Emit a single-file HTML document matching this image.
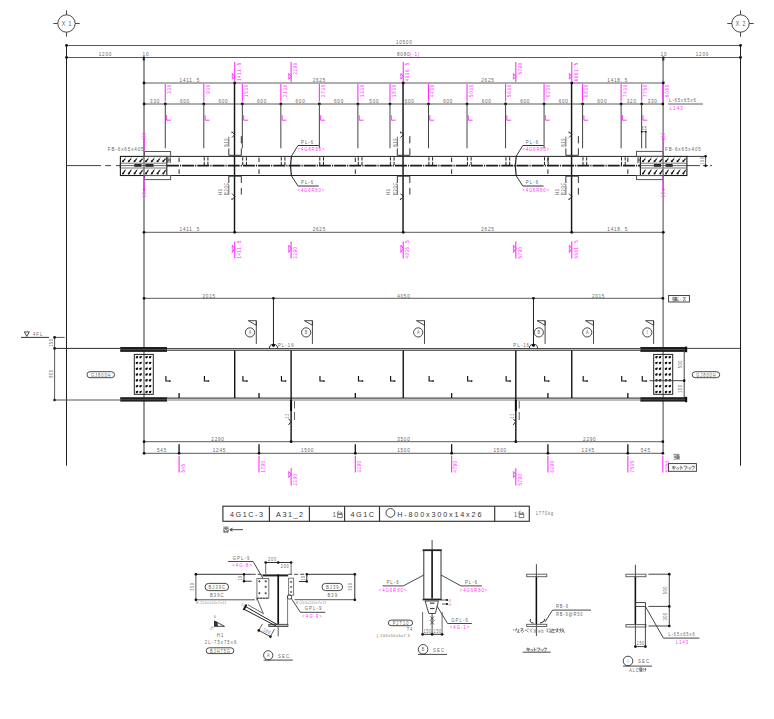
<!DOCTYPE html>
<html><head><meta charset="utf-8"><title>drawing</title>
<style>
html,body{margin:0;padding:0;background:#fff;}
body{width:774px;height:719px;overflow:hidden;}
svg{display:block;font-family:"Liberation Sans",sans-serif;}
</style></head><body>
<svg width="774" height="719" viewBox="0 0 774 719">
<rect width="774" height="719" fill="#fff"/>
<circle cx="66.5" cy="23.5" r="8.7" stroke="#333" stroke-width="0.9" fill="none"/>
<line x1="53.3" y1="23.5" x2="57.8" y2="23.5" stroke="#333" stroke-width="0.9"/>
<line x1="75.2" y1="23.5" x2="79.7" y2="23.5" stroke="#333" stroke-width="0.9"/>
<line x1="66.5" y1="10.3" x2="66.5" y2="14.8" stroke="#333" stroke-width="0.9"/>
<line x1="66.5" y1="32.2" x2="66.5" y2="36.7" stroke="#333" stroke-width="0.9"/>
<text x="0.58" y="0" font-size="6.5" fill="#555" text-anchor="middle" letter-spacing="1.15" transform="translate(66.5 25.9) scale(0.8 1)">X 1</text>
<circle cx="740.5" cy="23.5" r="8.7" stroke="#333" stroke-width="0.9" fill="none"/>
<line x1="727.3" y1="23.5" x2="731.8" y2="23.5" stroke="#333" stroke-width="0.9"/>
<line x1="749.2" y1="23.5" x2="753.7" y2="23.5" stroke="#333" stroke-width="0.9"/>
<line x1="740.5" y1="10.3" x2="740.5" y2="14.8" stroke="#333" stroke-width="0.9"/>
<line x1="740.5" y1="32.2" x2="740.5" y2="36.7" stroke="#333" stroke-width="0.9"/>
<text x="0.58" y="0" font-size="6.5" fill="#555" text-anchor="middle" letter-spacing="1.15" transform="translate(740.5 25.9) scale(0.8 1)">X 2</text>
<line x1="66.5" y1="45.5" x2="740.5" y2="45.5" stroke="#5a5a5a" stroke-width="1"/>
<line x1="66.5" y1="57.5" x2="740.5" y2="57.5" stroke="#5a5a5a" stroke-width="1"/>
<circle cx="66.5" cy="45.5" r="1.4" fill="#111"/>
<circle cx="66.5" cy="57.5" r="1.4" fill="#111"/>
<circle cx="740.5" cy="45.5" r="1.4" fill="#111"/>
<circle cx="740.5" cy="57.5" r="1.4" fill="#111"/>
<text x="0.47" y="0" font-size="5.8" fill="#666" text-anchor="middle" letter-spacing="0.93" transform="translate(403.8 44) scale(0.8 1)">10500</text>
<text x="0.47" y="0" font-size="5.8" fill="#666" text-anchor="middle" letter-spacing="0.93" transform="translate(105 55.6) scale(0.8 1)">1200</text>
<text x="0.47" y="0" font-size="5.8" fill="#666" text-anchor="middle" letter-spacing="0.93" transform="translate(702 55.6) scale(0.8 1)">1200</text>
<text x="0.47" y="0" font-size="5.8" fill="#666" text-anchor="middle" letter-spacing="0.93" transform="translate(145.5 55.6) scale(0.8 1)">10</text>
<text x="0.47" y="0" font-size="5.8" fill="#666" text-anchor="middle" letter-spacing="0.93" transform="translate(663.5 55.6) scale(0.8 1)">10</text>
<text x="0" y="0" font-size="5.8" fill="#666" text-anchor="start" letter-spacing="0.93" transform="translate(397 55.6) scale(0.8 1)">8080</text>
<text x="0" y="0" font-size="5.8" fill="#ff2eff" text-anchor="start" letter-spacing="0.93" transform="translate(409.8 55.6) scale(0.8 1)">(-1)</text>
<rect x="142.8" y="56.5" width="2" height="4" fill="#111"/>
<rect x="662.3" y="56.5" width="2" height="4" fill="#111"/>
<line x1="66.5" y1="45.5" x2="66.5" y2="465.7" stroke="#1e1e1e" stroke-width="1"/>
<line x1="740.5" y1="45.5" x2="740.5" y2="465.7" stroke="#1e1e1e" stroke-width="1"/>
<line x1="144" y1="57.5" x2="144" y2="453.3" stroke="#333" stroke-width="1"/>
<line x1="663.1" y1="57.5" x2="663.1" y2="453.3" stroke="#444" stroke-width="1"/>
<line x1="144" y1="83" x2="663.3" y2="83" stroke="#5a5a5a" stroke-width="1"/>
<circle cx="144" cy="83" r="1.4" fill="#111"/>
<circle cx="663.3" cy="83" r="1.4" fill="#111"/>
<circle cx="234.72" cy="83" r="1.4" fill="#111"/>
<circle cx="403.24" cy="83" r="1.4" fill="#111"/>
<circle cx="571.77" cy="83" r="1.4" fill="#111"/>
<text x="0.47" y="0" font-size="5.8" fill="#666" text-anchor="middle" letter-spacing="0.93" transform="translate(189.41 81.9) scale(0.8 1)">1411. 5</text>
<text x="0.47" y="0" font-size="5.8" fill="#666" text-anchor="middle" letter-spacing="0.93" transform="translate(318.98 81.9) scale(0.8 1)">2625</text>
<text x="0.47" y="0" font-size="5.8" fill="#666" text-anchor="middle" letter-spacing="0.93" transform="translate(487.51 81.9) scale(0.8 1)">2625</text>
<text x="0.47" y="0" font-size="5.8" fill="#666" text-anchor="middle" letter-spacing="0.93" transform="translate(617.3 81.9) scale(0.8 1)">1418. 5</text>
<line x1="144" y1="104" x2="663.3" y2="104" stroke="#5a5a5a" stroke-width="1"/>
<text x="0.47" y="0" font-size="5.8" fill="#666" text-anchor="middle" letter-spacing="0.93" transform="translate(154.69 102.9) scale(0.8 1)">330</text>
<text x="0.47" y="0" font-size="5.8" fill="#666" text-anchor="middle" letter-spacing="0.93" transform="translate(184.55 102.9) scale(0.8 1)">600</text>
<text x="0.47" y="0" font-size="5.8" fill="#666" text-anchor="middle" letter-spacing="0.93" transform="translate(223.07 102.9) scale(0.8 1)">600</text>
<text x="0.47" y="0" font-size="5.8" fill="#666" text-anchor="middle" letter-spacing="0.93" transform="translate(261.59 102.9) scale(0.8 1)">600</text>
<text x="0.47" y="0" font-size="5.8" fill="#666" text-anchor="middle" letter-spacing="0.93" transform="translate(300.11 102.9) scale(0.8 1)">600</text>
<text x="0.47" y="0" font-size="5.8" fill="#666" text-anchor="middle" letter-spacing="0.93" transform="translate(338.63 102.9) scale(0.8 1)">600</text>
<text x="0.47" y="0" font-size="5.8" fill="#666" text-anchor="middle" letter-spacing="0.93" transform="translate(373.94 102.9) scale(0.8 1)">500</text>
<text x="0.47" y="0" font-size="5.8" fill="#666" text-anchor="middle" letter-spacing="0.93" transform="translate(409.25 102.9) scale(0.8 1)">600</text>
<text x="0.47" y="0" font-size="5.8" fill="#666" text-anchor="middle" letter-spacing="0.93" transform="translate(447.77 102.9) scale(0.8 1)">600</text>
<text x="0.47" y="0" font-size="5.8" fill="#666" text-anchor="middle" letter-spacing="0.93" transform="translate(486.29 102.9) scale(0.8 1)">600</text>
<text x="0.47" y="0" font-size="5.8" fill="#666" text-anchor="middle" letter-spacing="0.93" transform="translate(524.81 102.9) scale(0.8 1)">600</text>
<text x="0.47" y="0" font-size="5.8" fill="#666" text-anchor="middle" letter-spacing="0.93" transform="translate(563.33 102.9) scale(0.8 1)">600</text>
<text x="0.47" y="0" font-size="5.8" fill="#666" text-anchor="middle" letter-spacing="0.93" transform="translate(601.85 102.9) scale(0.8 1)">600</text>
<text x="0.47" y="0" font-size="5.8" fill="#666" text-anchor="middle" letter-spacing="0.93" transform="translate(631.38 102.9) scale(0.8 1)">320</text>
<text x="0.47" y="0" font-size="5.8" fill="#666" text-anchor="middle" letter-spacing="0.93" transform="translate(652.24 102.9) scale(0.8 1)">330</text>
<circle cx="144.1" cy="104" r="1.4" fill="#111"/>
<circle cx="165.29" cy="104" r="1.4" fill="#111"/>
<circle cx="203.81" cy="104" r="1.4" fill="#111"/>
<circle cx="242.33" cy="104" r="1.4" fill="#111"/>
<circle cx="280.85" cy="104" r="1.4" fill="#111"/>
<circle cx="319.37" cy="104" r="1.4" fill="#111"/>
<circle cx="357.89" cy="104" r="1.4" fill="#111"/>
<circle cx="389.99" cy="104" r="1.4" fill="#111"/>
<circle cx="428.51" cy="104" r="1.4" fill="#111"/>
<circle cx="467.03" cy="104" r="1.4" fill="#111"/>
<circle cx="505.55" cy="104" r="1.4" fill="#111"/>
<circle cx="544.07" cy="104" r="1.4" fill="#111"/>
<circle cx="582.59" cy="104" r="1.4" fill="#111"/>
<circle cx="621.11" cy="104" r="1.4" fill="#111"/>
<circle cx="641.65" cy="104" r="1.4" fill="#111"/>
<circle cx="662.84" cy="104" r="1.4" fill="#111"/>
<line x1="165.29" y1="84" x2="165.29" y2="101.5" stroke="#ff2eff" stroke-width="1.1"/>
<text x="1.05" y="0" font-size="5.3" fill="#ff2eff" text-anchor="end" letter-spacing="1.05" transform="translate(171.09 85) rotate(-90) scale(0.8 1)">330</text>
<line x1="203.81" y1="84" x2="203.81" y2="101.5" stroke="#ff2eff" stroke-width="1.1"/>
<text x="1.05" y="0" font-size="5.3" fill="#ff2eff" text-anchor="end" letter-spacing="1.05" transform="translate(209.61 85) rotate(-90) scale(0.8 1)">930</text>
<line x1="242.33" y1="84" x2="242.33" y2="101.5" stroke="#ff2eff" stroke-width="1.1"/>
<text x="1.05" y="0" font-size="5.3" fill="#ff2eff" text-anchor="end" letter-spacing="1.05" transform="translate(248.13 85) rotate(-90) scale(0.8 1)">1530</text>
<line x1="280.85" y1="84" x2="280.85" y2="101.5" stroke="#ff2eff" stroke-width="1.1"/>
<text x="1.05" y="0" font-size="5.3" fill="#ff2eff" text-anchor="end" letter-spacing="1.05" transform="translate(286.65 85) rotate(-90) scale(0.8 1)">2130</text>
<line x1="319.37" y1="84" x2="319.37" y2="101.5" stroke="#ff2eff" stroke-width="1.1"/>
<text x="1.05" y="0" font-size="5.3" fill="#ff2eff" text-anchor="end" letter-spacing="1.05" transform="translate(325.17 85) rotate(-90) scale(0.8 1)">2730</text>
<line x1="357.89" y1="84" x2="357.89" y2="101.5" stroke="#ff2eff" stroke-width="1.1"/>
<text x="1.05" y="0" font-size="5.3" fill="#ff2eff" text-anchor="end" letter-spacing="1.05" transform="translate(363.69 85) rotate(-90) scale(0.8 1)">3330</text>
<line x1="389.99" y1="84" x2="389.99" y2="101.5" stroke="#ff2eff" stroke-width="1.1"/>
<text x="1.05" y="0" font-size="5.3" fill="#ff2eff" text-anchor="end" letter-spacing="1.05" transform="translate(395.79 85) rotate(-90) scale(0.8 1)">3830</text>
<line x1="428.51" y1="84" x2="428.51" y2="101.5" stroke="#ff2eff" stroke-width="1.1"/>
<text x="1.05" y="0" font-size="5.3" fill="#ff2eff" text-anchor="end" letter-spacing="1.05" transform="translate(434.31 85) rotate(-90) scale(0.8 1)">4430</text>
<line x1="467.03" y1="84" x2="467.03" y2="101.5" stroke="#ff2eff" stroke-width="1.1"/>
<text x="1.05" y="0" font-size="5.3" fill="#ff2eff" text-anchor="end" letter-spacing="1.05" transform="translate(472.83 85) rotate(-90) scale(0.8 1)">5030</text>
<line x1="505.55" y1="84" x2="505.55" y2="101.5" stroke="#ff2eff" stroke-width="1.1"/>
<text x="1.05" y="0" font-size="5.3" fill="#ff2eff" text-anchor="end" letter-spacing="1.05" transform="translate(511.35 85) rotate(-90) scale(0.8 1)">5630</text>
<line x1="544.07" y1="84" x2="544.07" y2="101.5" stroke="#ff2eff" stroke-width="1.1"/>
<text x="1.05" y="0" font-size="5.3" fill="#ff2eff" text-anchor="end" letter-spacing="1.05" transform="translate(549.87 85) rotate(-90) scale(0.8 1)">6230</text>
<line x1="582.59" y1="84" x2="582.59" y2="101.5" stroke="#ff2eff" stroke-width="1.1"/>
<text x="1.05" y="0" font-size="5.3" fill="#ff2eff" text-anchor="end" letter-spacing="1.05" transform="translate(588.39 85) rotate(-90) scale(0.8 1)">6830</text>
<line x1="621.11" y1="84" x2="621.11" y2="101.5" stroke="#ff2eff" stroke-width="1.1"/>
<text x="1.05" y="0" font-size="5.3" fill="#ff2eff" text-anchor="end" letter-spacing="1.05" transform="translate(626.91 85) rotate(-90) scale(0.8 1)">7430</text>
<line x1="641.65" y1="84" x2="641.65" y2="101.5" stroke="#ff2eff" stroke-width="1.1"/>
<text x="1.05" y="0" font-size="5.3" fill="#ff2eff" text-anchor="end" letter-spacing="1.05" transform="translate(647.45 85) rotate(-90) scale(0.8 1)">7750</text>
<line x1="662.84" y1="84" x2="662.84" y2="101.5" stroke="#ff2eff" stroke-width="1.1"/>
<text x="1.05" y="0" font-size="5.3" fill="#ff2eff" text-anchor="end" letter-spacing="1.05" transform="translate(668.64 85) rotate(-90) scale(0.8 1)">8080</text>
<line x1="165.29" y1="104" x2="165.29" y2="148.3" stroke="#444" stroke-width="1"/>
<path d="M166.59,115.2 L166.59,120.2 L170.89,120.2" stroke="#ff2eff" stroke-width="0.95" fill="none"/>
<line x1="203.81" y1="104" x2="203.81" y2="148.3" stroke="#444" stroke-width="1"/>
<path d="M205.11,115.2 L205.11,120.2 L209.41,120.2" stroke="#ff2eff" stroke-width="0.95" fill="none"/>
<line x1="242.33" y1="104" x2="242.33" y2="148.3" stroke="#444" stroke-width="1"/>
<path d="M243.63,115.2 L243.63,120.2 L247.93,120.2" stroke="#ff2eff" stroke-width="0.95" fill="none"/>
<line x1="280.85" y1="104" x2="280.85" y2="148.3" stroke="#444" stroke-width="1"/>
<path d="M282.15,115.2 L282.15,120.2 L286.45,120.2" stroke="#ff2eff" stroke-width="0.95" fill="none"/>
<line x1="319.37" y1="104" x2="319.37" y2="148.3" stroke="#444" stroke-width="1"/>
<path d="M320.67,115.2 L320.67,120.2 L324.97,120.2" stroke="#ff2eff" stroke-width="0.95" fill="none"/>
<line x1="357.89" y1="104" x2="357.89" y2="148.3" stroke="#444" stroke-width="1"/>
<path d="M359.19,115.2 L359.19,120.2 L363.49,120.2" stroke="#ff2eff" stroke-width="0.95" fill="none"/>
<line x1="389.99" y1="104" x2="389.99" y2="148.3" stroke="#444" stroke-width="1"/>
<path d="M391.29,115.2 L391.29,120.2 L395.59,120.2" stroke="#ff2eff" stroke-width="0.95" fill="none"/>
<line x1="428.51" y1="104" x2="428.51" y2="148.3" stroke="#444" stroke-width="1"/>
<path d="M429.81,115.2 L429.81,120.2 L434.11,120.2" stroke="#ff2eff" stroke-width="0.95" fill="none"/>
<line x1="467.03" y1="104" x2="467.03" y2="148.3" stroke="#444" stroke-width="1"/>
<path d="M468.33,115.2 L468.33,120.2 L472.63,120.2" stroke="#ff2eff" stroke-width="0.95" fill="none"/>
<line x1="505.55" y1="104" x2="505.55" y2="148.3" stroke="#444" stroke-width="1"/>
<path d="M506.85,115.2 L506.85,120.2 L511.15,120.2" stroke="#ff2eff" stroke-width="0.95" fill="none"/>
<line x1="544.07" y1="104" x2="544.07" y2="148.3" stroke="#444" stroke-width="1"/>
<path d="M545.37,115.2 L545.37,120.2 L549.67,120.2" stroke="#ff2eff" stroke-width="0.95" fill="none"/>
<line x1="582.59" y1="104" x2="582.59" y2="148.3" stroke="#444" stroke-width="1"/>
<path d="M583.89,115.2 L583.89,120.2 L588.19,120.2" stroke="#ff2eff" stroke-width="0.95" fill="none"/>
<line x1="621.11" y1="104" x2="621.11" y2="148.3" stroke="#444" stroke-width="1"/>
<path d="M622.41,115.2 L622.41,120.2 L626.71,120.2" stroke="#ff2eff" stroke-width="0.95" fill="none"/>
<line x1="641.65" y1="104" x2="641.65" y2="148.3" stroke="#444" stroke-width="1"/>
<path d="M642.95,115.2 L642.95,120.2 L647.25,120.2" stroke="#ff2eff" stroke-width="0.95" fill="none"/>
<line x1="668" y1="104" x2="703" y2="104" stroke="#5a5a5a" stroke-width="1"/>
<text x="0" y="0" font-size="5.3" fill="#666" text-anchor="start" letter-spacing="1.11" transform="translate(669 102) scale(0.8 1)">L-65x65x6</text>
<text x="0" y="0" font-size="5.6" fill="#ff2eff" text-anchor="start" letter-spacing="1.4" transform="translate(669.5 109.5) scale(0.8 1)">L143</text>
<line x1="641.65" y1="131.7" x2="645.85" y2="131.7" stroke="#5a5a5a" stroke-width="1"/>
<circle cx="641.65" cy="131.7" r="0.9" fill="#111"/>
<circle cx="645.85" cy="131.7" r="0.9" fill="#111"/>
<line x1="645.85" y1="131.7" x2="645.85" y2="148.3" stroke="#444" stroke-width="1"/>
<text x="0.41" y="0" font-size="5" fill="#666" text-anchor="middle" letter-spacing="0.82" transform="translate(644.15 130) scale(0.8 1)">65</text>
<line x1="234.52" y1="83" x2="234.52" y2="232.3" stroke="#151515" stroke-width="1.45"/>
<line x1="403.04" y1="83" x2="403.04" y2="232.3" stroke="#151515" stroke-width="1.45"/>
<line x1="571.57" y1="83" x2="571.57" y2="232.3" stroke="#151515" stroke-width="1.45"/>
<line x1="234.72" y1="62" x2="234.72" y2="82" stroke="#ff2eff" stroke-width="1.1"/>
<polyline points="232.32,73.5 234.72,76.5 232.32,79.2" stroke="#ff2eff" stroke-width="1" fill="none"/>
<line x1="232.32" y1="73.5" x2="232.32" y2="79.2" stroke="#ff2eff" stroke-width="0.8"/>
<text x="0.86" y="0" font-size="5.3" fill="#ff2eff" text-anchor="end" letter-spacing="0.86" transform="translate(240.52 63) rotate(-90) scale(0.8 1)">1411. 5</text>
<line x1="291.12" y1="62" x2="291.12" y2="82" stroke="#ff2eff" stroke-width="1.1"/>
<polyline points="288.72,73.5 291.12,76.5 288.72,79.2" stroke="#ff2eff" stroke-width="1" fill="none"/>
<line x1="288.72" y1="73.5" x2="288.72" y2="79.2" stroke="#ff2eff" stroke-width="0.8"/>
<text x="0.86" y="0" font-size="5.3" fill="#ff2eff" text-anchor="end" letter-spacing="0.86" transform="translate(296.92 63) rotate(-90) scale(0.8 1)">2290</text>
<line x1="403.24" y1="62" x2="403.24" y2="82" stroke="#ff2eff" stroke-width="1.1"/>
<polyline points="400.84,73.5 403.24,76.5 400.84,79.2" stroke="#ff2eff" stroke-width="1" fill="none"/>
<line x1="400.84" y1="73.5" x2="400.84" y2="79.2" stroke="#ff2eff" stroke-width="0.8"/>
<text x="0.86" y="0" font-size="5.3" fill="#ff2eff" text-anchor="end" letter-spacing="0.86" transform="translate(409.04 63) rotate(-90) scale(0.8 1)">4036. 5</text>
<line x1="515.82" y1="62" x2="515.82" y2="82" stroke="#ff2eff" stroke-width="1.1"/>
<polyline points="513.42,73.5 515.82,76.5 513.42,79.2" stroke="#ff2eff" stroke-width="1" fill="none"/>
<line x1="513.42" y1="73.5" x2="513.42" y2="79.2" stroke="#ff2eff" stroke-width="0.8"/>
<text x="0.86" y="0" font-size="5.3" fill="#ff2eff" text-anchor="end" letter-spacing="0.86" transform="translate(521.62 63) rotate(-90) scale(0.8 1)">5790</text>
<line x1="571.77" y1="62" x2="571.77" y2="82" stroke="#ff2eff" stroke-width="1.1"/>
<polyline points="569.37,73.5 571.77,76.5 569.37,79.2" stroke="#ff2eff" stroke-width="1" fill="none"/>
<line x1="569.37" y1="73.5" x2="569.37" y2="79.2" stroke="#ff2eff" stroke-width="0.8"/>
<text x="0.86" y="0" font-size="5.3" fill="#ff2eff" text-anchor="end" letter-spacing="0.86" transform="translate(577.57 63) rotate(-90) scale(0.8 1)">6661. 5</text>
<line x1="166.9" y1="156.4" x2="640.4" y2="156.4" stroke="#222" stroke-width="1"/>
<line x1="686.9" y1="156.4" x2="705.6" y2="156.4" stroke="#333" stroke-width="1"/>
<line x1="166.9" y1="175.5" x2="640.4" y2="175.5" stroke="#222" stroke-width="1"/>
<line x1="66.5" y1="165.6" x2="101" y2="165.6" stroke="#444" stroke-width="1"/>
<line x1="105.2" y1="165.6" x2="111.1" y2="165.6" stroke="#444" stroke-width="1"/>
<line x1="116" y1="165.6" x2="120.2" y2="165.6" stroke="#444" stroke-width="1"/>
<line x1="166.9" y1="165.6" x2="640.4" y2="165.6" stroke="#1a1a1a" stroke-width="1.6" stroke-dasharray="12 1 1.2 1"/>
<line x1="686.9" y1="165.6" x2="700" y2="165.6" stroke="#444" stroke-width="1"/>
<line x1="703" y1="165.6" x2="712" y2="165.6" stroke="#444" stroke-width="1" stroke-dasharray="5 2"/>
<rect x="120.4" y="156.4" width="46.4" height="19.1" stroke="#1a1a1a" stroke-width="1.1" fill="none"/>
<line x1="143.8" y1="156.4" x2="143.8" y2="175.5" stroke="#999" stroke-width="1"/>
<line x1="120.4" y1="163.2" x2="166.8" y2="163.2" stroke="#6a6a6a" stroke-width="0.9"/>
<circle cx="123" cy="161.3" r="1" fill="#111"/>
<line x1="123" y1="161.3" x2="125.3" y2="158.6" stroke="#1a1a1a" stroke-width="1.2"/>
<circle cx="125.8" cy="157.8" r="0.45" fill="#444"/>
<circle cx="128.75" cy="161.3" r="1" fill="#111"/>
<line x1="128.75" y1="161.3" x2="131.05" y2="158.6" stroke="#1a1a1a" stroke-width="1.2"/>
<circle cx="131.55" cy="157.8" r="0.45" fill="#444"/>
<circle cx="134.5" cy="161.3" r="1" fill="#111"/>
<line x1="134.5" y1="161.3" x2="136.8" y2="158.6" stroke="#1a1a1a" stroke-width="1.2"/>
<circle cx="137.3" cy="157.8" r="0.45" fill="#444"/>
<circle cx="140.25" cy="161.3" r="1" fill="#111"/>
<line x1="140.25" y1="161.3" x2="142.55" y2="158.6" stroke="#1a1a1a" stroke-width="1.2"/>
<circle cx="143.05" cy="157.8" r="0.45" fill="#444"/>
<circle cx="146" cy="161.3" r="1" fill="#111"/>
<line x1="146" y1="161.3" x2="148.3" y2="158.6" stroke="#1a1a1a" stroke-width="1.2"/>
<circle cx="148.8" cy="157.8" r="0.45" fill="#444"/>
<circle cx="151.75" cy="161.3" r="1" fill="#111"/>
<line x1="151.75" y1="161.3" x2="154.05" y2="158.6" stroke="#1a1a1a" stroke-width="1.2"/>
<circle cx="154.55" cy="157.8" r="0.45" fill="#444"/>
<circle cx="157.5" cy="161.3" r="1" fill="#111"/>
<line x1="157.5" y1="161.3" x2="159.8" y2="158.6" stroke="#1a1a1a" stroke-width="1.2"/>
<circle cx="160.3" cy="157.8" r="0.45" fill="#444"/>
<circle cx="163.25" cy="161.3" r="1" fill="#111"/>
<line x1="163.25" y1="161.3" x2="165.55" y2="158.6" stroke="#1a1a1a" stroke-width="1.2"/>
<circle cx="166.05" cy="157.8" r="0.45" fill="#444"/>
<line x1="120.4" y1="168" x2="166.8" y2="168" stroke="#6a6a6a" stroke-width="0.9"/>
<circle cx="123" cy="173.6" r="1" fill="#111"/>
<line x1="123" y1="173.6" x2="125.3" y2="170.2" stroke="#1a1a1a" stroke-width="1.2"/>
<circle cx="125.8" cy="169.4" r="0.45" fill="#444"/>
<circle cx="128.75" cy="173.6" r="1" fill="#111"/>
<line x1="128.75" y1="173.6" x2="131.05" y2="170.2" stroke="#1a1a1a" stroke-width="1.2"/>
<circle cx="131.55" cy="169.4" r="0.45" fill="#444"/>
<circle cx="134.5" cy="173.6" r="1" fill="#111"/>
<line x1="134.5" y1="173.6" x2="136.8" y2="170.2" stroke="#1a1a1a" stroke-width="1.2"/>
<circle cx="137.3" cy="169.4" r="0.45" fill="#444"/>
<circle cx="140.25" cy="173.6" r="1" fill="#111"/>
<line x1="140.25" y1="173.6" x2="142.55" y2="170.2" stroke="#1a1a1a" stroke-width="1.2"/>
<circle cx="143.05" cy="169.4" r="0.45" fill="#444"/>
<circle cx="146" cy="173.6" r="1" fill="#111"/>
<line x1="146" y1="173.6" x2="148.3" y2="170.2" stroke="#1a1a1a" stroke-width="1.2"/>
<circle cx="148.8" cy="169.4" r="0.45" fill="#444"/>
<circle cx="151.75" cy="173.6" r="1" fill="#111"/>
<line x1="151.75" y1="173.6" x2="154.05" y2="170.2" stroke="#1a1a1a" stroke-width="1.2"/>
<circle cx="154.55" cy="169.4" r="0.45" fill="#444"/>
<circle cx="157.5" cy="173.6" r="1" fill="#111"/>
<line x1="157.5" y1="173.6" x2="159.8" y2="170.2" stroke="#1a1a1a" stroke-width="1.2"/>
<circle cx="160.3" cy="169.4" r="0.45" fill="#444"/>
<circle cx="163.25" cy="173.6" r="1" fill="#111"/>
<line x1="163.25" y1="173.6" x2="165.55" y2="170.2" stroke="#1a1a1a" stroke-width="1.2"/>
<circle cx="166.05" cy="169.4" r="0.45" fill="#444"/>
<line x1="120.4" y1="163.2" x2="120.4" y2="168" stroke="#1a1a1a" stroke-width="1.1"/>
<rect x="640.4" y="156.4" width="46.5" height="19.1" stroke="#1a1a1a" stroke-width="1.1" fill="none"/>
<line x1="663.2" y1="156.4" x2="663.2" y2="175.5" stroke="#999" stroke-width="1"/>
<line x1="640.4" y1="163.2" x2="686.9" y2="163.2" stroke="#6a6a6a" stroke-width="0.9"/>
<circle cx="643" cy="161.3" r="1" fill="#111"/>
<line x1="643" y1="161.3" x2="645.3" y2="158.6" stroke="#1a1a1a" stroke-width="1.2"/>
<circle cx="645.8" cy="157.8" r="0.45" fill="#444"/>
<circle cx="648.75" cy="161.3" r="1" fill="#111"/>
<line x1="648.75" y1="161.3" x2="651.05" y2="158.6" stroke="#1a1a1a" stroke-width="1.2"/>
<circle cx="651.55" cy="157.8" r="0.45" fill="#444"/>
<circle cx="654.5" cy="161.3" r="1" fill="#111"/>
<line x1="654.5" y1="161.3" x2="656.8" y2="158.6" stroke="#1a1a1a" stroke-width="1.2"/>
<circle cx="657.3" cy="157.8" r="0.45" fill="#444"/>
<circle cx="660.25" cy="161.3" r="1" fill="#111"/>
<line x1="660.25" y1="161.3" x2="662.55" y2="158.6" stroke="#1a1a1a" stroke-width="1.2"/>
<circle cx="663.05" cy="157.8" r="0.45" fill="#444"/>
<circle cx="666" cy="161.3" r="1" fill="#111"/>
<line x1="666" y1="161.3" x2="668.3" y2="158.6" stroke="#1a1a1a" stroke-width="1.2"/>
<circle cx="668.8" cy="157.8" r="0.45" fill="#444"/>
<circle cx="671.75" cy="161.3" r="1" fill="#111"/>
<line x1="671.75" y1="161.3" x2="674.05" y2="158.6" stroke="#1a1a1a" stroke-width="1.2"/>
<circle cx="674.55" cy="157.8" r="0.45" fill="#444"/>
<circle cx="677.5" cy="161.3" r="1" fill="#111"/>
<line x1="677.5" y1="161.3" x2="679.8" y2="158.6" stroke="#1a1a1a" stroke-width="1.2"/>
<circle cx="680.3" cy="157.8" r="0.45" fill="#444"/>
<circle cx="683.25" cy="161.3" r="1" fill="#111"/>
<line x1="683.25" y1="161.3" x2="685.55" y2="158.6" stroke="#1a1a1a" stroke-width="1.2"/>
<circle cx="686.05" cy="157.8" r="0.45" fill="#444"/>
<line x1="640.4" y1="168" x2="686.9" y2="168" stroke="#6a6a6a" stroke-width="0.9"/>
<circle cx="643" cy="173.6" r="1" fill="#111"/>
<line x1="643" y1="173.6" x2="645.3" y2="170.2" stroke="#1a1a1a" stroke-width="1.2"/>
<circle cx="645.8" cy="169.4" r="0.45" fill="#444"/>
<circle cx="648.75" cy="173.6" r="1" fill="#111"/>
<line x1="648.75" y1="173.6" x2="651.05" y2="170.2" stroke="#1a1a1a" stroke-width="1.2"/>
<circle cx="651.55" cy="169.4" r="0.45" fill="#444"/>
<circle cx="654.5" cy="173.6" r="1" fill="#111"/>
<line x1="654.5" y1="173.6" x2="656.8" y2="170.2" stroke="#1a1a1a" stroke-width="1.2"/>
<circle cx="657.3" cy="169.4" r="0.45" fill="#444"/>
<circle cx="660.25" cy="173.6" r="1" fill="#111"/>
<line x1="660.25" y1="173.6" x2="662.55" y2="170.2" stroke="#1a1a1a" stroke-width="1.2"/>
<circle cx="663.05" cy="169.4" r="0.45" fill="#444"/>
<circle cx="666" cy="173.6" r="1" fill="#111"/>
<line x1="666" y1="173.6" x2="668.3" y2="170.2" stroke="#1a1a1a" stroke-width="1.2"/>
<circle cx="668.8" cy="169.4" r="0.45" fill="#444"/>
<circle cx="671.75" cy="173.6" r="1" fill="#111"/>
<line x1="671.75" y1="173.6" x2="674.05" y2="170.2" stroke="#1a1a1a" stroke-width="1.2"/>
<circle cx="674.55" cy="169.4" r="0.45" fill="#444"/>
<circle cx="677.5" cy="173.6" r="1" fill="#111"/>
<line x1="677.5" y1="173.6" x2="679.8" y2="170.2" stroke="#1a1a1a" stroke-width="1.2"/>
<circle cx="680.3" cy="169.4" r="0.45" fill="#444"/>
<circle cx="683.25" cy="173.6" r="1" fill="#111"/>
<line x1="683.25" y1="173.6" x2="685.55" y2="170.2" stroke="#1a1a1a" stroke-width="1.2"/>
<circle cx="686.05" cy="169.4" r="0.45" fill="#444"/>
<line x1="640.4" y1="163.2" x2="640.4" y2="168" stroke="#1a1a1a" stroke-width="1.1"/>
<line x1="120.4" y1="165.6" x2="166.8" y2="165.6" stroke="#555" stroke-width="0.9"/>
<line x1="640.4" y1="165.6" x2="686.9" y2="165.6" stroke="#555" stroke-width="0.9"/>
<rect x="134.3" y="164" width="7.2" height="2.8" fill="#2a2a2a"/>
<rect x="145.4" y="164" width="8.1" height="2.8" fill="#2a2a2a"/>
<rect x="653.9" y="164" width="7.1" height="2.8" fill="#2a2a2a"/>
<rect x="665.6" y="164" width="7.1" height="2.8" fill="#2a2a2a"/>
<line x1="167.9" y1="157.2" x2="167.9" y2="163" stroke="#222" stroke-width="0.9"/>
<line x1="170.2" y1="157.2" x2="170.2" y2="163" stroke="#222" stroke-width="0.9"/>
<line x1="167.9" y1="160" x2="170.2" y2="160" stroke="#222" stroke-width="0.8"/>
<line x1="638" y1="157.2" x2="638" y2="163" stroke="#222" stroke-width="0.9"/>
<line x1="640.3" y1="157.2" x2="640.3" y2="163" stroke="#222" stroke-width="0.9"/>
<line x1="638" y1="160" x2="640.3" y2="160" stroke="#222" stroke-width="0.8"/>
<rect x="144.5" y="151.5" width="26.1" height="4.9" stroke="#555" stroke-width="1" fill="none"/>
<rect x="144.5" y="175.5" width="26.1" height="4.1" stroke="#555" stroke-width="1" fill="none"/>
<rect x="636.5" y="151.4" width="26.6" height="5" stroke="#555" stroke-width="1" fill="none"/>
<rect x="636.5" y="175.5" width="26.6" height="4.1" stroke="#555" stroke-width="1" fill="none"/>
<text x="1.15" y="0" font-size="5.6" fill="#666" text-anchor="end" letter-spacing="1.15" transform="translate(143.6 150.5) scale(0.8 1)">FB-6x65x405</text>
<text x="0" y="0" font-size="5.6" fill="#666" text-anchor="start" letter-spacing="1.15" transform="translate(665 150.5) scale(0.8 1)">FB-6x65x405</text>
<line x1="144" y1="138.5" x2="144" y2="152" stroke="#ff2eff" stroke-width="1.3"/>
<circle cx="144" cy="138.8" r="1.3" fill="#ff2eff"/>
<line x1="144" y1="177" x2="144" y2="190" stroke="#ff2eff" stroke-width="1.3"/>
<circle cx="144" cy="189.7" r="1.3" fill="#ff2eff"/>
<text x="0.41" y="0" font-size="5" fill="#ff2eff" text-anchor="middle" letter-spacing="0.82" transform="translate(145.9 135) rotate(-90) scale(0.8 1)">10</text>
<text x="0.41" y="0" font-size="5" fill="#ff2eff" text-anchor="middle" letter-spacing="0.82" transform="translate(145.9 194.6) rotate(-90) scale(0.8 1)">10</text>
<line x1="663.3" y1="138.5" x2="663.3" y2="152" stroke="#ff2eff" stroke-width="1.3"/>
<circle cx="663.3" cy="138.8" r="1.3" fill="#ff2eff"/>
<line x1="663.3" y1="177" x2="663.3" y2="190" stroke="#ff2eff" stroke-width="1.3"/>
<circle cx="663.3" cy="189.7" r="1.3" fill="#ff2eff"/>
<text x="0.41" y="0" font-size="5" fill="#ff2eff" text-anchor="middle" letter-spacing="0.82" transform="translate(665.2 135) rotate(-90) scale(0.8 1)">10</text>
<text x="0.41" y="0" font-size="5" fill="#ff2eff" text-anchor="middle" letter-spacing="0.82" transform="translate(665.2 194.6) rotate(-90) scale(0.8 1)">10</text>
<line x1="705.6" y1="156.3" x2="705.6" y2="165.8" stroke="#5a5a5a" stroke-width="1"/>
<circle cx="705.6" cy="156.3" r="1.2" fill="#111"/>
<circle cx="705.6" cy="165.8" r="1.2" fill="#111"/>
<text x="0.38" y="0" font-size="4.6" fill="#666" text-anchor="middle" letter-spacing="0.76" transform="translate(703.5 161) rotate(-90) scale(0.8 1)">150</text>
<line x1="204.21" y1="157.2" x2="204.21" y2="160.6" stroke="#222" stroke-width="1"/>
<line x1="204.21" y1="161.8" x2="204.21" y2="165" stroke="#222" stroke-width="1"/>
<line x1="207.91" y1="157.2" x2="207.91" y2="160.6" stroke="#222" stroke-width="1"/>
<line x1="207.91" y1="161.8" x2="207.91" y2="165" stroke="#222" stroke-width="1"/>
<line x1="242.73" y1="157.2" x2="242.73" y2="160.6" stroke="#222" stroke-width="1"/>
<line x1="242.73" y1="161.8" x2="242.73" y2="165" stroke="#222" stroke-width="1"/>
<line x1="246.43" y1="157.2" x2="246.43" y2="160.6" stroke="#222" stroke-width="1"/>
<line x1="246.43" y1="161.8" x2="246.43" y2="165" stroke="#222" stroke-width="1"/>
<line x1="281.25" y1="157.2" x2="281.25" y2="160.6" stroke="#222" stroke-width="1"/>
<line x1="281.25" y1="161.8" x2="281.25" y2="165" stroke="#222" stroke-width="1"/>
<line x1="284.95" y1="157.2" x2="284.95" y2="160.6" stroke="#222" stroke-width="1"/>
<line x1="284.95" y1="161.8" x2="284.95" y2="165" stroke="#222" stroke-width="1"/>
<line x1="319.77" y1="157.2" x2="319.77" y2="160.6" stroke="#222" stroke-width="1"/>
<line x1="319.77" y1="161.8" x2="319.77" y2="165" stroke="#222" stroke-width="1"/>
<line x1="323.47" y1="157.2" x2="323.47" y2="160.6" stroke="#222" stroke-width="1"/>
<line x1="323.47" y1="161.8" x2="323.47" y2="165" stroke="#222" stroke-width="1"/>
<line x1="358.29" y1="157.2" x2="358.29" y2="160.6" stroke="#222" stroke-width="1"/>
<line x1="358.29" y1="161.8" x2="358.29" y2="165" stroke="#222" stroke-width="1"/>
<line x1="361.99" y1="157.2" x2="361.99" y2="160.6" stroke="#222" stroke-width="1"/>
<line x1="361.99" y1="161.8" x2="361.99" y2="165" stroke="#222" stroke-width="1"/>
<line x1="390.39" y1="157.2" x2="390.39" y2="160.6" stroke="#222" stroke-width="1"/>
<line x1="390.39" y1="161.8" x2="390.39" y2="165" stroke="#222" stroke-width="1"/>
<line x1="394.09" y1="157.2" x2="394.09" y2="160.6" stroke="#222" stroke-width="1"/>
<line x1="394.09" y1="161.8" x2="394.09" y2="165" stroke="#222" stroke-width="1"/>
<line x1="428.91" y1="157.2" x2="428.91" y2="160.6" stroke="#222" stroke-width="1"/>
<line x1="428.91" y1="161.8" x2="428.91" y2="165" stroke="#222" stroke-width="1"/>
<line x1="432.61" y1="157.2" x2="432.61" y2="160.6" stroke="#222" stroke-width="1"/>
<line x1="432.61" y1="161.8" x2="432.61" y2="165" stroke="#222" stroke-width="1"/>
<line x1="467.43" y1="157.2" x2="467.43" y2="160.6" stroke="#222" stroke-width="1"/>
<line x1="467.43" y1="161.8" x2="467.43" y2="165" stroke="#222" stroke-width="1"/>
<line x1="471.13" y1="157.2" x2="471.13" y2="160.6" stroke="#222" stroke-width="1"/>
<line x1="471.13" y1="161.8" x2="471.13" y2="165" stroke="#222" stroke-width="1"/>
<line x1="505.95" y1="157.2" x2="505.95" y2="160.6" stroke="#222" stroke-width="1"/>
<line x1="505.95" y1="161.8" x2="505.95" y2="165" stroke="#222" stroke-width="1"/>
<line x1="509.65" y1="157.2" x2="509.65" y2="160.6" stroke="#222" stroke-width="1"/>
<line x1="509.65" y1="161.8" x2="509.65" y2="165" stroke="#222" stroke-width="1"/>
<line x1="544.47" y1="157.2" x2="544.47" y2="160.6" stroke="#222" stroke-width="1"/>
<line x1="544.47" y1="161.8" x2="544.47" y2="165" stroke="#222" stroke-width="1"/>
<line x1="548.17" y1="157.2" x2="548.17" y2="160.6" stroke="#222" stroke-width="1"/>
<line x1="548.17" y1="161.8" x2="548.17" y2="165" stroke="#222" stroke-width="1"/>
<line x1="582.99" y1="157.2" x2="582.99" y2="160.6" stroke="#222" stroke-width="1"/>
<line x1="582.99" y1="161.8" x2="582.99" y2="165" stroke="#222" stroke-width="1"/>
<line x1="586.69" y1="157.2" x2="586.69" y2="160.6" stroke="#222" stroke-width="1"/>
<line x1="586.69" y1="161.8" x2="586.69" y2="165" stroke="#222" stroke-width="1"/>
<line x1="621.51" y1="157.2" x2="621.51" y2="160.6" stroke="#222" stroke-width="1"/>
<line x1="621.51" y1="161.8" x2="621.51" y2="165" stroke="#222" stroke-width="1"/>
<line x1="625.21" y1="157.2" x2="625.21" y2="160.6" stroke="#222" stroke-width="1"/>
<line x1="625.21" y1="161.8" x2="625.21" y2="165" stroke="#222" stroke-width="1"/>
<line x1="179.09" y1="157.6" x2="179.09" y2="162" stroke="#222" stroke-width="1"/>
<line x1="179.09" y1="169.4" x2="179.09" y2="173.9" stroke="#222" stroke-width="1"/>
<line x1="259.02" y1="157.6" x2="259.02" y2="162" stroke="#222" stroke-width="1"/>
<line x1="259.02" y1="169.4" x2="259.02" y2="173.9" stroke="#222" stroke-width="1"/>
<line x1="355.32" y1="157.6" x2="355.32" y2="162" stroke="#222" stroke-width="1"/>
<line x1="355.32" y1="169.4" x2="355.32" y2="173.9" stroke="#222" stroke-width="1"/>
<line x1="451.62" y1="157.6" x2="451.62" y2="162" stroke="#222" stroke-width="1"/>
<line x1="451.62" y1="169.4" x2="451.62" y2="173.9" stroke="#222" stroke-width="1"/>
<line x1="547.92" y1="157.6" x2="547.92" y2="162" stroke="#222" stroke-width="1"/>
<line x1="547.92" y1="169.4" x2="547.92" y2="173.9" stroke="#222" stroke-width="1"/>
<line x1="627.85" y1="157.6" x2="627.85" y2="162" stroke="#222" stroke-width="1"/>
<line x1="627.85" y1="169.4" x2="627.85" y2="173.9" stroke="#222" stroke-width="1"/>
<polyline points="228.82,148.4 228.82,155.3 234.72,155.3" stroke="#333" stroke-width="1" fill="none"/>
<polyline points="241.32,148.4 241.32,155.3 234.72,155.3" stroke="#333" stroke-width="1" fill="none"/>
<line x1="241.32" y1="136.1" x2="241.32" y2="143.4" stroke="#333" stroke-width="1"/>
<polyline points="228.82,183 228.82,176.2 234.72,176.2" stroke="#333" stroke-width="1" fill="none"/>
<polyline points="241.32,183 241.32,176.2 234.72,176.2" stroke="#333" stroke-width="1" fill="none"/>
<line x1="241.32" y1="187.9" x2="241.32" y2="194.6" stroke="#333" stroke-width="1"/>
<polyline points="231.92,131.8 234.92,134.6 231.92,137.6" stroke="#222" stroke-width="0.9" fill="none"/>
<line x1="231.92" y1="131.8" x2="231.92" y2="133.2" stroke="#222" stroke-width="0.8"/>
<polyline points="231.92,193.6 234.92,196.6 231.92,199.8" stroke="#222" stroke-width="0.9" fill="none"/>
<line x1="231.92" y1="198.4" x2="231.92" y2="199.8" stroke="#222" stroke-width="0.8"/>
<text x="0" y="0" font-size="5.2" fill="#6a6060" text-anchor="start" letter-spacing="0.85" transform="translate(228.32 146.7) rotate(-90) scale(0.8 1)">819</text>
<line x1="228.82" y1="136.7" x2="228.82" y2="146.7" stroke="#444" stroke-width="0.8"/>
<text x="0" y="0" font-size="5.2" fill="#6a6060" text-anchor="start" letter-spacing="0.85" transform="translate(228.32 195) rotate(-90) scale(0.8 1)">B20C</text>
<text x="0" y="0" font-size="5.2" fill="#6a6060" text-anchor="start" letter-spacing="0.85" transform="translate(221.52 195) rotate(-90) scale(0.8 1)">H1</text>
<line x1="228.82" y1="184.5" x2="228.82" y2="195" stroke="#444" stroke-width="0.8"/>
<polyline points="397.34,148.4 397.34,155.3 403.24,155.3" stroke="#333" stroke-width="1" fill="none"/>
<polyline points="409.84,148.4 409.84,155.3 403.24,155.3" stroke="#333" stroke-width="1" fill="none"/>
<line x1="409.84" y1="136.1" x2="409.84" y2="143.4" stroke="#333" stroke-width="1"/>
<polyline points="397.34,183 397.34,176.2 403.24,176.2" stroke="#333" stroke-width="1" fill="none"/>
<polyline points="409.84,183 409.84,176.2 403.24,176.2" stroke="#333" stroke-width="1" fill="none"/>
<line x1="409.84" y1="187.9" x2="409.84" y2="194.6" stroke="#333" stroke-width="1"/>
<polyline points="400.44,131.8 403.44,134.6 400.44,137.6" stroke="#222" stroke-width="0.9" fill="none"/>
<line x1="400.44" y1="131.8" x2="400.44" y2="133.2" stroke="#222" stroke-width="0.8"/>
<polyline points="400.44,193.6 403.44,196.6 400.44,199.8" stroke="#222" stroke-width="0.9" fill="none"/>
<line x1="400.44" y1="198.4" x2="400.44" y2="199.8" stroke="#222" stroke-width="0.8"/>
<text x="0" y="0" font-size="5.2" fill="#6a6060" text-anchor="start" letter-spacing="0.85" transform="translate(396.84 146.7) rotate(-90) scale(0.8 1)">819</text>
<line x1="397.34" y1="136.7" x2="397.34" y2="146.7" stroke="#444" stroke-width="0.8"/>
<text x="0" y="0" font-size="5.2" fill="#6a6060" text-anchor="start" letter-spacing="0.85" transform="translate(396.84 195) rotate(-90) scale(0.8 1)">B20C</text>
<text x="0" y="0" font-size="5.2" fill="#6a6060" text-anchor="start" letter-spacing="0.85" transform="translate(390.04 195) rotate(-90) scale(0.8 1)">H1</text>
<line x1="397.34" y1="184.5" x2="397.34" y2="195" stroke="#444" stroke-width="0.8"/>
<polyline points="565.87,148.4 565.87,155.3 571.77,155.3" stroke="#333" stroke-width="1" fill="none"/>
<polyline points="578.37,148.4 578.37,155.3 571.77,155.3" stroke="#333" stroke-width="1" fill="none"/>
<line x1="578.37" y1="136.1" x2="578.37" y2="143.4" stroke="#333" stroke-width="1"/>
<polyline points="565.87,183 565.87,176.2 571.77,176.2" stroke="#333" stroke-width="1" fill="none"/>
<polyline points="578.37,183 578.37,176.2 571.77,176.2" stroke="#333" stroke-width="1" fill="none"/>
<line x1="578.37" y1="187.9" x2="578.37" y2="194.6" stroke="#333" stroke-width="1"/>
<polyline points="568.97,131.8 571.97,134.6 568.97,137.6" stroke="#222" stroke-width="0.9" fill="none"/>
<line x1="568.97" y1="131.8" x2="568.97" y2="133.2" stroke="#222" stroke-width="0.8"/>
<polyline points="568.97,193.6 571.97,196.6 568.97,199.8" stroke="#222" stroke-width="0.9" fill="none"/>
<line x1="568.97" y1="198.4" x2="568.97" y2="199.8" stroke="#222" stroke-width="0.8"/>
<text x="0" y="0" font-size="5.2" fill="#6a6060" text-anchor="start" letter-spacing="0.85" transform="translate(565.37 146.7) rotate(-90) scale(0.8 1)">819</text>
<line x1="565.87" y1="136.7" x2="565.87" y2="146.7" stroke="#444" stroke-width="0.8"/>
<text x="0" y="0" font-size="5.2" fill="#6a6060" text-anchor="start" letter-spacing="0.85" transform="translate(565.37 195) rotate(-90) scale(0.8 1)">B20C</text>
<text x="0" y="0" font-size="5.2" fill="#6a6060" text-anchor="start" letter-spacing="0.85" transform="translate(558.57 195) rotate(-90) scale(0.8 1)">H1</text>
<line x1="565.87" y1="184.5" x2="565.87" y2="195" stroke="#444" stroke-width="0.8"/>
<polyline points="298,145.5 291.3,156.4" stroke="#222" stroke-width="0.9" fill="none"/>
<path d="M291.4,156.4 Q289.6,166 291.4,175.6" stroke="#222" stroke-width="1.2" fill="none"/>
<polyline points="291.3,175.6 298,186" stroke="#222" stroke-width="0.9" fill="none"/>
<line x1="298" y1="145.5" x2="318.8" y2="145.5" stroke="#333" stroke-width="1"/>
<line x1="298" y1="186" x2="318.8" y2="186" stroke="#333" stroke-width="1"/>
<text x="0" y="0" font-size="5.3" fill="#666" text-anchor="start" letter-spacing="1.36" transform="translate(301 143.8) scale(0.8 1)">PL-6</text>
<text x="0" y="0" font-size="5.3" fill="#ff2eff" text-anchor="start" letter-spacing="1.05" transform="translate(297.8 151) scale(0.8 1)">&lt;4G6R80&gt;</text>
<text x="0" y="0" font-size="5.3" fill="#666" text-anchor="start" letter-spacing="1.36" transform="translate(301 184.3) scale(0.8 1)">PL-6</text>
<text x="0" y="0" font-size="5.3" fill="#ff2eff" text-anchor="start" letter-spacing="1.05" transform="translate(297.6 191.8) scale(0.8 1)">&lt;4G6R80&gt;</text>
<polyline points="522.8,145.5 516.1,156.4" stroke="#222" stroke-width="0.9" fill="none"/>
<path d="M516.2,156.4 Q514.4,166 516.2,175.6" stroke="#222" stroke-width="1.2" fill="none"/>
<polyline points="516.1,175.6 522.8,186" stroke="#222" stroke-width="0.9" fill="none"/>
<line x1="522.8" y1="145.5" x2="543.6" y2="145.5" stroke="#333" stroke-width="1"/>
<line x1="522.8" y1="186" x2="543.6" y2="186" stroke="#333" stroke-width="1"/>
<text x="0" y="0" font-size="5.3" fill="#666" text-anchor="start" letter-spacing="1.36" transform="translate(525.8 143.8) scale(0.8 1)">PL-6</text>
<text x="0" y="0" font-size="5.3" fill="#ff2eff" text-anchor="start" letter-spacing="1.05" transform="translate(522.6 151) scale(0.8 1)">&lt;4G6R80&gt;</text>
<text x="0" y="0" font-size="5.3" fill="#666" text-anchor="start" letter-spacing="1.36" transform="translate(525.8 184.3) scale(0.8 1)">PL-6</text>
<text x="0" y="0" font-size="5.3" fill="#ff2eff" text-anchor="start" letter-spacing="1.05" transform="translate(522.4 191.8) scale(0.8 1)">&lt;4G6R80&gt;</text>
<line x1="144" y1="232.3" x2="663.3" y2="232.3" stroke="#5a5a5a" stroke-width="1"/>
<circle cx="144" cy="232.3" r="1.4" fill="#111"/>
<circle cx="663.3" cy="232.3" r="1.4" fill="#111"/>
<circle cx="234.72" cy="232.3" r="1.4" fill="#111"/>
<circle cx="403.24" cy="232.3" r="1.4" fill="#111"/>
<circle cx="571.77" cy="232.3" r="1.4" fill="#111"/>
<text x="0.47" y="0" font-size="5.8" fill="#666" text-anchor="middle" letter-spacing="0.93" transform="translate(189.41 230.5) scale(0.8 1)">1411. 5</text>
<text x="0.47" y="0" font-size="5.8" fill="#666" text-anchor="middle" letter-spacing="0.93" transform="translate(318.98 230.5) scale(0.8 1)">2625</text>
<text x="0.47" y="0" font-size="5.8" fill="#666" text-anchor="middle" letter-spacing="0.93" transform="translate(487.51 230.5) scale(0.8 1)">2625</text>
<text x="0.47" y="0" font-size="5.8" fill="#666" text-anchor="middle" letter-spacing="0.93" transform="translate(617.3 230.5) scale(0.8 1)">1418. 5</text>
<line x1="234.72" y1="241.5" x2="234.72" y2="258.6" stroke="#ff2eff" stroke-width="1.1"/>
<polyline points="232.32,245.2 234.72,248.5 232.32,252.4" stroke="#ff2eff" stroke-width="1" fill="none"/>
<line x1="232.32" y1="245.2" x2="232.32" y2="252.4" stroke="#ff2eff" stroke-width="0.8"/>
<text x="0" y="0" font-size="5.3" fill="#ff2eff" text-anchor="start" letter-spacing="0.86" transform="translate(240.52 258.6) rotate(-90) scale(0.8 1)">1411. 5</text>
<line x1="291.12" y1="241.5" x2="291.12" y2="258.6" stroke="#ff2eff" stroke-width="1.1"/>
<polyline points="288.72,245.2 291.12,248.5 288.72,252.4" stroke="#ff2eff" stroke-width="1" fill="none"/>
<line x1="288.72" y1="245.2" x2="288.72" y2="252.4" stroke="#ff2eff" stroke-width="0.8"/>
<text x="0" y="0" font-size="5.3" fill="#ff2eff" text-anchor="start" letter-spacing="0.86" transform="translate(296.92 258.6) rotate(-90) scale(0.8 1)">2290</text>
<line x1="403.24" y1="241.5" x2="403.24" y2="258.6" stroke="#ff2eff" stroke-width="1.1"/>
<polyline points="400.84,245.2 403.24,248.5 400.84,252.4" stroke="#ff2eff" stroke-width="1" fill="none"/>
<line x1="400.84" y1="245.2" x2="400.84" y2="252.4" stroke="#ff2eff" stroke-width="0.8"/>
<text x="0" y="0" font-size="5.3" fill="#ff2eff" text-anchor="start" letter-spacing="0.86" transform="translate(409.04 258.6) rotate(-90) scale(0.8 1)">4036. 5</text>
<line x1="515.82" y1="241.5" x2="515.82" y2="258.6" stroke="#ff2eff" stroke-width="1.1"/>
<polyline points="513.42,245.2 515.82,248.5 513.42,252.4" stroke="#ff2eff" stroke-width="1" fill="none"/>
<line x1="513.42" y1="245.2" x2="513.42" y2="252.4" stroke="#ff2eff" stroke-width="0.8"/>
<text x="0" y="0" font-size="5.3" fill="#ff2eff" text-anchor="start" letter-spacing="0.86" transform="translate(521.62 258.6) rotate(-90) scale(0.8 1)">5790</text>
<line x1="571.77" y1="241.5" x2="571.77" y2="258.6" stroke="#ff2eff" stroke-width="1.1"/>
<polyline points="569.37,245.2 571.77,248.5 569.37,252.4" stroke="#ff2eff" stroke-width="1" fill="none"/>
<line x1="569.37" y1="245.2" x2="569.37" y2="252.4" stroke="#ff2eff" stroke-width="0.8"/>
<text x="0" y="0" font-size="5.3" fill="#ff2eff" text-anchor="start" letter-spacing="0.86" transform="translate(577.57 258.6) rotate(-90) scale(0.8 1)">6661. 5</text>
<polygon points="24.3,331.9 29.3,331.9 26.8,336.4" stroke="#333" stroke-width="0.9" fill="none"/>
<line x1="21" y1="337.4" x2="49" y2="337.4" stroke="#333" stroke-width="1"/>
<text x="0" y="0" font-size="5.3" fill="#666" text-anchor="start" letter-spacing="1.24" transform="translate(33 335.5) scale(0.8 1)">4FL</text>
<line x1="54.6" y1="337.4" x2="54.6" y2="400" stroke="#5a5a5a" stroke-width="1"/>
<line x1="54.6" y1="337.4" x2="64.7" y2="337.4" stroke="#5a5a5a" stroke-width="1"/>
<circle cx="54.6" cy="337.4" r="1.35" fill="#111"/>
<circle cx="54.6" cy="348.4" r="1.35" fill="#111"/>
<circle cx="54.6" cy="400" r="1.35" fill="#111"/>
<text x="0.4" y="0" font-size="4.8" fill="#666" text-anchor="middle" letter-spacing="0.79" transform="translate(52.5 343) rotate(-90) scale(0.8 1)">150</text>
<text x="0.4" y="0" font-size="4.8" fill="#666" text-anchor="middle" letter-spacing="0.79" transform="translate(52.5 374) rotate(-90) scale(0.8 1)">800</text>
<line x1="54.6" y1="348.4" x2="120.2" y2="348.4" stroke="#2a2a2a" stroke-width="1"/>
<line x1="54.6" y1="400" x2="120.2" y2="400" stroke="#555" stroke-width="1"/>
<line x1="686.5" y1="348.4" x2="740.5" y2="348.4" stroke="#444" stroke-width="1"/>
<line x1="167" y1="348.5" x2="640.3" y2="348.5" stroke="#4a4a4a" stroke-width="1"/>
<line x1="167" y1="350.2" x2="640.3" y2="350.2" stroke="#1e1e1e" stroke-width="1"/>
<line x1="167" y1="398.1" x2="640.3" y2="398.1" stroke="#1e1e1e" stroke-width="1"/>
<line x1="167" y1="400" x2="640.3" y2="400" stroke="#7a7a7a" stroke-width="1"/>
<rect x="120.2" y="347" width="46.8" height="4.9" fill="#1e1e1e"/>
<line x1="120.2" y1="349.6" x2="167" y2="349.6" stroke="#777" stroke-width="0.5"/>
<rect x="120.2" y="397.2" width="46.8" height="4.4" fill="#1e1e1e"/>
<line x1="120.2" y1="399.6" x2="167" y2="399.6" stroke="#777" stroke-width="0.5"/>
<rect x="640.3" y="347" width="46.4" height="4.9" fill="#1e1e1e"/>
<line x1="640.3" y1="349.6" x2="686.7" y2="349.6" stroke="#777" stroke-width="0.5"/>
<rect x="640.3" y="397.2" width="46.4" height="4.4" fill="#1e1e1e"/>
<line x1="640.3" y1="399.6" x2="686.7" y2="399.6" stroke="#777" stroke-width="0.5"/>
<rect x="685" y="346.6" width="2.2" height="5.6" fill="#111"/>
<rect x="685" y="396.8" width="2.2" height="5.4" fill="#111"/>
<rect x="134.3" y="354.4" width="19" height="39.9" stroke="#222" stroke-width="1" fill="none"/>
<circle cx="136.8" cy="357.3" r="1.15" fill="#050505"/>
<line x1="136.6" y1="357.5" x2="138" y2="356.1" stroke="#111" stroke-width="1.15"/>
<circle cx="140.4" cy="357.3" r="1.15" fill="#050505"/>
<line x1="140.2" y1="357.5" x2="141.6" y2="356.1" stroke="#111" stroke-width="1.15"/>
<circle cx="146.4" cy="357.3" r="1.15" fill="#050505"/>
<line x1="146.2" y1="357.5" x2="147.6" y2="356.1" stroke="#111" stroke-width="1.15"/>
<circle cx="150" cy="357.3" r="1.15" fill="#050505"/>
<line x1="149.8" y1="357.5" x2="151.2" y2="356.1" stroke="#111" stroke-width="1.15"/>
<circle cx="136.8" cy="363.1" r="1.15" fill="#050505"/>
<line x1="136.6" y1="363.3" x2="138" y2="361.9" stroke="#111" stroke-width="1.15"/>
<circle cx="140.4" cy="363.1" r="1.15" fill="#050505"/>
<line x1="140.2" y1="363.3" x2="141.6" y2="361.9" stroke="#111" stroke-width="1.15"/>
<circle cx="146.4" cy="363.1" r="1.15" fill="#050505"/>
<line x1="146.2" y1="363.3" x2="147.6" y2="361.9" stroke="#111" stroke-width="1.15"/>
<circle cx="150" cy="363.1" r="1.15" fill="#050505"/>
<line x1="149.8" y1="363.3" x2="151.2" y2="361.9" stroke="#111" stroke-width="1.15"/>
<circle cx="136.8" cy="368.9" r="1.15" fill="#050505"/>
<line x1="136.6" y1="369.1" x2="138" y2="367.7" stroke="#111" stroke-width="1.15"/>
<circle cx="140.4" cy="368.9" r="1.15" fill="#050505"/>
<line x1="140.2" y1="369.1" x2="141.6" y2="367.7" stroke="#111" stroke-width="1.15"/>
<circle cx="146.4" cy="368.9" r="1.15" fill="#050505"/>
<line x1="146.2" y1="369.1" x2="147.6" y2="367.7" stroke="#111" stroke-width="1.15"/>
<circle cx="150" cy="368.9" r="1.15" fill="#050505"/>
<line x1="149.8" y1="369.1" x2="151.2" y2="367.7" stroke="#111" stroke-width="1.15"/>
<circle cx="136.8" cy="374.7" r="1.15" fill="#050505"/>
<line x1="136.6" y1="374.9" x2="138" y2="373.5" stroke="#111" stroke-width="1.15"/>
<circle cx="140.4" cy="374.7" r="1.15" fill="#050505"/>
<line x1="140.2" y1="374.9" x2="141.6" y2="373.5" stroke="#111" stroke-width="1.15"/>
<circle cx="146.4" cy="374.7" r="1.15" fill="#050505"/>
<line x1="146.2" y1="374.9" x2="147.6" y2="373.5" stroke="#111" stroke-width="1.15"/>
<circle cx="150" cy="374.7" r="1.15" fill="#050505"/>
<line x1="149.8" y1="374.9" x2="151.2" y2="373.5" stroke="#111" stroke-width="1.15"/>
<circle cx="136.8" cy="380.5" r="1.15" fill="#050505"/>
<line x1="136.6" y1="380.7" x2="138" y2="379.3" stroke="#111" stroke-width="1.15"/>
<circle cx="140.4" cy="380.5" r="1.15" fill="#050505"/>
<line x1="140.2" y1="380.7" x2="141.6" y2="379.3" stroke="#111" stroke-width="1.15"/>
<circle cx="146.4" cy="380.5" r="1.15" fill="#050505"/>
<line x1="146.2" y1="380.7" x2="147.6" y2="379.3" stroke="#111" stroke-width="1.15"/>
<circle cx="150" cy="380.5" r="1.15" fill="#050505"/>
<line x1="149.8" y1="380.7" x2="151.2" y2="379.3" stroke="#111" stroke-width="1.15"/>
<circle cx="136.8" cy="386.3" r="1.15" fill="#050505"/>
<line x1="136.6" y1="386.5" x2="138" y2="385.1" stroke="#111" stroke-width="1.15"/>
<circle cx="140.4" cy="386.3" r="1.15" fill="#050505"/>
<line x1="140.2" y1="386.5" x2="141.6" y2="385.1" stroke="#111" stroke-width="1.15"/>
<circle cx="146.4" cy="386.3" r="1.15" fill="#050505"/>
<line x1="146.2" y1="386.5" x2="147.6" y2="385.1" stroke="#111" stroke-width="1.15"/>
<circle cx="150" cy="386.3" r="1.15" fill="#050505"/>
<line x1="149.8" y1="386.5" x2="151.2" y2="385.1" stroke="#111" stroke-width="1.15"/>
<circle cx="136.8" cy="392.1" r="1.15" fill="#050505"/>
<line x1="136.6" y1="392.3" x2="138" y2="390.9" stroke="#111" stroke-width="1.15"/>
<circle cx="140.4" cy="392.1" r="1.15" fill="#050505"/>
<line x1="140.2" y1="392.3" x2="141.6" y2="390.9" stroke="#111" stroke-width="1.15"/>
<circle cx="146.4" cy="392.1" r="1.15" fill="#050505"/>
<line x1="146.2" y1="392.3" x2="147.6" y2="390.9" stroke="#111" stroke-width="1.15"/>
<circle cx="150" cy="392.1" r="1.15" fill="#050505"/>
<line x1="149.8" y1="392.3" x2="151.2" y2="390.9" stroke="#111" stroke-width="1.15"/>
<rect x="653.7" y="354.4" width="19" height="39.9" stroke="#222" stroke-width="1" fill="none"/>
<circle cx="656.3" cy="357.3" r="1.15" fill="#050505"/>
<line x1="656.1" y1="357.5" x2="657.5" y2="356.1" stroke="#111" stroke-width="1.15"/>
<circle cx="659.9" cy="357.3" r="1.15" fill="#050505"/>
<line x1="659.7" y1="357.5" x2="661.1" y2="356.1" stroke="#111" stroke-width="1.15"/>
<circle cx="665.9" cy="357.3" r="1.15" fill="#050505"/>
<line x1="665.7" y1="357.5" x2="667.1" y2="356.1" stroke="#111" stroke-width="1.15"/>
<circle cx="669.6" cy="357.3" r="1.15" fill="#050505"/>
<line x1="669.4" y1="357.5" x2="670.8" y2="356.1" stroke="#111" stroke-width="1.15"/>
<circle cx="656.3" cy="363.1" r="1.15" fill="#050505"/>
<line x1="656.1" y1="363.3" x2="657.5" y2="361.9" stroke="#111" stroke-width="1.15"/>
<circle cx="659.9" cy="363.1" r="1.15" fill="#050505"/>
<line x1="659.7" y1="363.3" x2="661.1" y2="361.9" stroke="#111" stroke-width="1.15"/>
<circle cx="665.9" cy="363.1" r="1.15" fill="#050505"/>
<line x1="665.7" y1="363.3" x2="667.1" y2="361.9" stroke="#111" stroke-width="1.15"/>
<circle cx="669.6" cy="363.1" r="1.15" fill="#050505"/>
<line x1="669.4" y1="363.3" x2="670.8" y2="361.9" stroke="#111" stroke-width="1.15"/>
<circle cx="656.3" cy="368.9" r="1.15" fill="#050505"/>
<line x1="656.1" y1="369.1" x2="657.5" y2="367.7" stroke="#111" stroke-width="1.15"/>
<circle cx="659.9" cy="368.9" r="1.15" fill="#050505"/>
<line x1="659.7" y1="369.1" x2="661.1" y2="367.7" stroke="#111" stroke-width="1.15"/>
<circle cx="665.9" cy="368.9" r="1.15" fill="#050505"/>
<line x1="665.7" y1="369.1" x2="667.1" y2="367.7" stroke="#111" stroke-width="1.15"/>
<circle cx="669.6" cy="368.9" r="1.15" fill="#050505"/>
<line x1="669.4" y1="369.1" x2="670.8" y2="367.7" stroke="#111" stroke-width="1.15"/>
<circle cx="656.3" cy="374.7" r="1.15" fill="#050505"/>
<line x1="656.1" y1="374.9" x2="657.5" y2="373.5" stroke="#111" stroke-width="1.15"/>
<circle cx="659.9" cy="374.7" r="1.15" fill="#050505"/>
<line x1="659.7" y1="374.9" x2="661.1" y2="373.5" stroke="#111" stroke-width="1.15"/>
<circle cx="665.9" cy="374.7" r="1.15" fill="#050505"/>
<line x1="665.7" y1="374.9" x2="667.1" y2="373.5" stroke="#111" stroke-width="1.15"/>
<circle cx="669.6" cy="374.7" r="1.15" fill="#050505"/>
<line x1="669.4" y1="374.9" x2="670.8" y2="373.5" stroke="#111" stroke-width="1.15"/>
<circle cx="656.3" cy="380.5" r="1.15" fill="#050505"/>
<line x1="656.1" y1="380.7" x2="657.5" y2="379.3" stroke="#111" stroke-width="1.15"/>
<circle cx="659.9" cy="380.5" r="1.15" fill="#050505"/>
<line x1="659.7" y1="380.7" x2="661.1" y2="379.3" stroke="#111" stroke-width="1.15"/>
<circle cx="665.9" cy="380.5" r="1.15" fill="#050505"/>
<line x1="665.7" y1="380.7" x2="667.1" y2="379.3" stroke="#111" stroke-width="1.15"/>
<circle cx="669.6" cy="380.5" r="1.15" fill="#050505"/>
<line x1="669.4" y1="380.7" x2="670.8" y2="379.3" stroke="#111" stroke-width="1.15"/>
<circle cx="656.3" cy="386.3" r="1.15" fill="#050505"/>
<line x1="656.1" y1="386.5" x2="657.5" y2="385.1" stroke="#111" stroke-width="1.15"/>
<circle cx="659.9" cy="386.3" r="1.15" fill="#050505"/>
<line x1="659.7" y1="386.5" x2="661.1" y2="385.1" stroke="#111" stroke-width="1.15"/>
<circle cx="665.9" cy="386.3" r="1.15" fill="#050505"/>
<line x1="665.7" y1="386.5" x2="667.1" y2="385.1" stroke="#111" stroke-width="1.15"/>
<circle cx="669.6" cy="386.3" r="1.15" fill="#050505"/>
<line x1="669.4" y1="386.5" x2="670.8" y2="385.1" stroke="#111" stroke-width="1.15"/>
<circle cx="656.3" cy="392.1" r="1.15" fill="#050505"/>
<line x1="656.1" y1="392.3" x2="657.5" y2="390.9" stroke="#111" stroke-width="1.15"/>
<circle cx="659.9" cy="392.1" r="1.15" fill="#050505"/>
<line x1="659.7" y1="392.3" x2="661.1" y2="390.9" stroke="#111" stroke-width="1.15"/>
<circle cx="665.9" cy="392.1" r="1.15" fill="#050505"/>
<line x1="665.7" y1="392.3" x2="667.1" y2="390.9" stroke="#111" stroke-width="1.15"/>
<circle cx="669.6" cy="392.1" r="1.15" fill="#050505"/>
<line x1="669.4" y1="392.3" x2="670.8" y2="390.9" stroke="#111" stroke-width="1.15"/>
<line x1="144" y1="298.3" x2="663.3" y2="298.3" stroke="#5a5a5a" stroke-width="1"/>
<circle cx="144.1" cy="298.3" r="1.4" fill="#111"/>
<circle cx="273.46" cy="298.3" r="1.4" fill="#111"/>
<circle cx="533.47" cy="298.3" r="1.4" fill="#111"/>
<circle cx="662.84" cy="298.3" r="1.4" fill="#111"/>
<text x="0.47" y="0" font-size="5.8" fill="#666" text-anchor="middle" letter-spacing="0.93" transform="translate(208.78 297.8) scale(0.8 1)">2015</text>
<text x="0.47" y="0" font-size="5.8" fill="#666" text-anchor="middle" letter-spacing="0.93" transform="translate(403.47 297.8) scale(0.8 1)">4050</text>
<text x="0.47" y="0" font-size="5.8" fill="#666" text-anchor="middle" letter-spacing="0.93" transform="translate(598.15 297.8) scale(0.8 1)">2015</text>
<line x1="273.46" y1="298.3" x2="273.46" y2="344" stroke="#222" stroke-width="1"/>
<path d="M269.36,348.4 A4.1,4.1 0 0 1 277.56,348.4" stroke="#222" stroke-width="0.95" fill="none"/>
<circle cx="273.46" cy="345.3" r="1.5" fill="#111"/>
<line x1="533.47" y1="298.3" x2="533.47" y2="344" stroke="#222" stroke-width="1"/>
<path d="M529.37,348.4 A4.1,4.1 0 0 1 537.57,348.4" stroke="#222" stroke-width="0.95" fill="none"/>
<circle cx="533.47" cy="345.3" r="1.5" fill="#111"/>
<text x="0" y="0" font-size="5.3" fill="#666" text-anchor="start" letter-spacing="1.36" transform="translate(277.96 346.6) scale(0.8 1)">PL-16</text>
<text x="1.36" y="0" font-size="5.3" fill="#666" text-anchor="end" letter-spacing="1.36" transform="translate(528.97 346.6) scale(0.8 1)">PL-16</text>
<rect x="668.6" y="295.5" width="20.8" height="6.5" stroke="#333" stroke-width="0.9" fill="none"/>
<path transform="translate(672.4 296.7) scale(4.6)" d="M0.2,0 L0.2,0.15 M0,0.2 L0.4,0.2 M0.08,0.35 L0.15,0.75 M0.35,0.35 L0.28,0.75 M0,0.95 L0.4,0.95 M0.7,0 L0.7,0.3 M0.5,0.1 L0.5,0.3 L0.9,0.3 L0.9,0.1 M0.45,0.45 L1,0.45 M0.5,0.55 L0.5,1 M0.5,0.55 L0.95,0.55 L0.95,1 M0.65,0.55 L0.65,1 M0.8,0.55 L0.8,1" stroke="#666" stroke-width="0.8" fill="none" vector-effect="non-scaling-stroke"/>
<text x="0" y="0" font-size="5" fill="#666" text-anchor="start" letter-spacing="0.95" transform="translate(677 301.3) scale(0.8 1)">Ľ-</text>
<path transform="translate(682.2 297.1) scale(4.2)" d="M0.15,0.15 L0.8,0.15 L0.2,0.95 M0.5,0.6 L0.85,0.95" stroke="#666" stroke-width="0.8" fill="none" vector-effect="non-scaling-stroke"/>
<circle cx="250" cy="332.4" r="4.6" stroke="#333" stroke-width="0.9" fill="none"/>
<text x="0.33" y="0" font-size="4.8" fill="#666" text-anchor="middle" letter-spacing="0.67" transform="translate(250 334.2) scale(0.8 1)">A</text>
<line x1="256.3" y1="320.7" x2="256.3" y2="343.9" stroke="#333" stroke-width="0.9"/>
<polyline points="248.3,320.7 256.3,320.7 256.3,325.3 248.3,320.7" stroke="#333" stroke-width="0.9" fill="none"/>
<circle cx="306.1" cy="332.4" r="4.6" stroke="#333" stroke-width="0.9" fill="none"/>
<text x="0.33" y="0" font-size="4.8" fill="#666" text-anchor="middle" letter-spacing="0.67" transform="translate(306.1 334.2) scale(0.8 1)">B</text>
<line x1="312.4" y1="320.7" x2="312.4" y2="343.9" stroke="#333" stroke-width="0.9"/>
<polyline points="304.4,320.7 312.4,320.7 312.4,325.3 304.4,320.7" stroke="#333" stroke-width="0.9" fill="none"/>
<circle cx="418.2" cy="332.4" r="4.6" stroke="#333" stroke-width="0.9" fill="none"/>
<text x="0.33" y="0" font-size="4.8" fill="#666" text-anchor="middle" letter-spacing="0.67" transform="translate(418.2 334.2) scale(0.8 1)">A</text>
<line x1="424.5" y1="320.7" x2="424.5" y2="343.9" stroke="#333" stroke-width="0.9"/>
<polyline points="416.5,320.7 424.5,320.7 424.5,325.3 416.5,320.7" stroke="#333" stroke-width="0.9" fill="none"/>
<circle cx="538.8" cy="332.4" r="4.6" stroke="#333" stroke-width="0.9" fill="none"/>
<text x="0.33" y="0" font-size="4.8" fill="#666" text-anchor="middle" letter-spacing="0.67" transform="translate(538.8 334.2) scale(0.8 1)">B</text>
<line x1="545.1" y1="320.7" x2="545.1" y2="343.9" stroke="#333" stroke-width="0.9"/>
<polyline points="537.1,320.7 545.1,320.7 545.1,325.3 537.1,320.7" stroke="#333" stroke-width="0.9" fill="none"/>
<circle cx="587.2" cy="332.4" r="4.6" stroke="#333" stroke-width="0.9" fill="none"/>
<text x="0.33" y="0" font-size="4.8" fill="#666" text-anchor="middle" letter-spacing="0.67" transform="translate(587.2 334.2) scale(0.8 1)">A</text>
<line x1="593.5" y1="320.7" x2="593.5" y2="343.9" stroke="#333" stroke-width="0.9"/>
<polyline points="585.5,320.7 593.5,320.7 593.5,325.3 585.5,320.7" stroke="#333" stroke-width="0.9" fill="none"/>
<circle cx="647.3" cy="332.4" r="4.6" stroke="#333" stroke-width="0.9" fill="none"/>
<text x="0.33" y="0" font-size="4.8" fill="#666" text-anchor="middle" letter-spacing="0.67" transform="translate(647.3 334.2) scale(0.8 1)">I</text>
<line x1="653.6" y1="320.7" x2="653.6" y2="343.9" stroke="#333" stroke-width="0.9"/>
<polyline points="645.6,320.7 653.6,320.7 653.6,325.3 645.6,320.7" stroke="#333" stroke-width="0.9" fill="none"/>
<line x1="234.72" y1="350.4" x2="234.72" y2="397.9" stroke="#0a0a0a" stroke-width="1.35"/>
<line x1="403.24" y1="350.4" x2="403.24" y2="397.9" stroke="#0a0a0a" stroke-width="1.35"/>
<line x1="571.77" y1="350.4" x2="571.77" y2="397.9" stroke="#0a0a0a" stroke-width="1.35"/>
<line x1="291.12" y1="350.4" x2="291.12" y2="441.7" stroke="#0a0a0a" stroke-width="1.35"/>
<line x1="291.12" y1="400" x2="291.12" y2="411" stroke="#0a0a0a" stroke-width="1.9"/>
<line x1="294.52" y1="401" x2="294.52" y2="408.5" stroke="#555" stroke-width="0.9"/>
<line x1="294.52" y1="412" x2="294.52" y2="420" stroke="#555" stroke-width="0.9"/>
<polyline points="288.52,418.8 290.92,421.5 288.52,425" stroke="#222" stroke-width="0.9" fill="none"/>
<text x="0" y="0" font-size="4.6" fill="#666" text-anchor="start" letter-spacing="0.76" transform="translate(288.92 418.5) rotate(-90) scale(0.8 1)">12</text>
<line x1="515.82" y1="350.4" x2="515.82" y2="441.7" stroke="#0a0a0a" stroke-width="1.35"/>
<line x1="515.82" y1="400" x2="515.82" y2="411" stroke="#0a0a0a" stroke-width="1.9"/>
<line x1="519.22" y1="401" x2="519.22" y2="408.5" stroke="#555" stroke-width="0.9"/>
<line x1="519.22" y1="412" x2="519.22" y2="420" stroke="#555" stroke-width="0.9"/>
<polyline points="513.22,418.8 515.62,421.5 513.22,425" stroke="#222" stroke-width="0.9" fill="none"/>
<text x="0" y="0" font-size="4.6" fill="#666" text-anchor="start" letter-spacing="0.76" transform="translate(513.62 418.5) rotate(-90) scale(0.8 1)">12</text>
<path d="M165.89,376.0 L165.89,381 L169.89,381" stroke="#111" stroke-width="1.15" fill="none"/>
<circle cx="169.99" cy="381" r="0.85" fill="#111"/>
<path d="M204.41,376.0 L204.41,381 L208.41,381" stroke="#111" stroke-width="1.15" fill="none"/>
<circle cx="208.51" cy="381" r="0.85" fill="#111"/>
<path d="M242.93,376.0 L242.93,381 L246.93,381" stroke="#111" stroke-width="1.15" fill="none"/>
<circle cx="247.03" cy="381" r="0.85" fill="#111"/>
<path d="M281.45,376.0 L281.45,381 L285.45,381" stroke="#111" stroke-width="1.15" fill="none"/>
<circle cx="285.55" cy="381" r="0.85" fill="#111"/>
<path d="M319.97,376.0 L319.97,381 L323.97,381" stroke="#111" stroke-width="1.15" fill="none"/>
<circle cx="324.07" cy="381" r="0.85" fill="#111"/>
<path d="M358.49,376.0 L358.49,381 L362.49,381" stroke="#111" stroke-width="1.15" fill="none"/>
<circle cx="362.59" cy="381" r="0.85" fill="#111"/>
<path d="M390.59,376.0 L390.59,381 L394.59,381" stroke="#111" stroke-width="1.15" fill="none"/>
<circle cx="394.69" cy="381" r="0.85" fill="#111"/>
<path d="M429.11,376.0 L429.11,381 L433.11,381" stroke="#111" stroke-width="1.15" fill="none"/>
<circle cx="433.21" cy="381" r="0.85" fill="#111"/>
<path d="M467.63,376.0 L467.63,381 L471.63,381" stroke="#111" stroke-width="1.15" fill="none"/>
<circle cx="471.73" cy="381" r="0.85" fill="#111"/>
<path d="M506.15,376.0 L506.15,381 L510.15,381" stroke="#111" stroke-width="1.15" fill="none"/>
<circle cx="510.25" cy="381" r="0.85" fill="#111"/>
<path d="M544.67,376.0 L544.67,381 L548.67,381" stroke="#111" stroke-width="1.15" fill="none"/>
<circle cx="548.77" cy="381" r="0.85" fill="#111"/>
<path d="M583.19,376.0 L583.19,381 L587.19,381" stroke="#111" stroke-width="1.15" fill="none"/>
<circle cx="587.29" cy="381" r="0.85" fill="#111"/>
<path d="M621.71,376.0 L621.71,381 L625.71,381" stroke="#111" stroke-width="1.15" fill="none"/>
<circle cx="625.81" cy="381" r="0.85" fill="#111"/>
<path d="M642.25,376.0 L642.25,381 L646.25,381" stroke="#111" stroke-width="1.15" fill="none"/>
<circle cx="646.35" cy="381" r="0.85" fill="#111"/>
<line x1="179.09" y1="393" x2="179.09" y2="397.9" stroke="#111" stroke-width="1.3"/>
<line x1="259.02" y1="393" x2="259.02" y2="397.9" stroke="#111" stroke-width="1.3"/>
<line x1="355.32" y1="393" x2="355.32" y2="397.9" stroke="#111" stroke-width="1.3"/>
<line x1="451.62" y1="393" x2="451.62" y2="397.9" stroke="#111" stroke-width="1.3"/>
<line x1="547.92" y1="393" x2="547.92" y2="397.9" stroke="#111" stroke-width="1.3"/>
<line x1="627.85" y1="393" x2="627.85" y2="397.9" stroke="#111" stroke-width="1.3"/>
<line x1="649.4" y1="380.7" x2="684.2" y2="380.7" stroke="#444" stroke-width="1"/>
<line x1="684.2" y1="350.4" x2="684.2" y2="398" stroke="#444" stroke-width="1"/>
<circle cx="684.2" cy="380.7" r="1.35" fill="#111"/>
<text x="0.4" y="0" font-size="4.8" fill="#666" text-anchor="middle" letter-spacing="0.79" transform="translate(681.8 364.5) rotate(-90) scale(0.8 1)">500</text>
<text x="0.4" y="0" font-size="4.8" fill="#666" text-anchor="middle" letter-spacing="0.79" transform="translate(681.8 389) rotate(-90) scale(0.8 1)">100</text>
<rect x="87" y="371.7" width="27.5" height="6" stroke="#333" stroke-width="0.9" fill="none" rx="3"/>
<text x="0.6" y="0" font-size="5" fill="#666" text-anchor="middle" letter-spacing="1.19" transform="translate(100.75 376.8) scale(0.8 1)">GJ800H</text>
<rect x="692.2" y="371.7" width="27.5" height="6" stroke="#333" stroke-width="0.9" fill="none" rx="3"/>
<text x="0.6" y="0" font-size="5" fill="#666" text-anchor="middle" letter-spacing="1.19" transform="translate(705.95 376.8) scale(0.8 1)">GJ800H</text>
<line x1="144" y1="441.7" x2="663.3" y2="441.7" stroke="#5a5a5a" stroke-width="1"/>
<line x1="144" y1="453.3" x2="663.3" y2="453.3" stroke="#5a5a5a" stroke-width="1"/>
<circle cx="144.1" cy="441.7" r="1.4" fill="#111"/>
<circle cx="291.12" cy="441.7" r="1.4" fill="#111"/>
<circle cx="515.82" cy="441.7" r="1.4" fill="#111"/>
<circle cx="662.84" cy="441.7" r="1.4" fill="#111"/>
<text x="0.47" y="0" font-size="5.8" fill="#666" text-anchor="middle" letter-spacing="0.93" transform="translate(217.61 440.8) scale(0.8 1)">2290</text>
<text x="0.47" y="0" font-size="5.8" fill="#666" text-anchor="middle" letter-spacing="0.93" transform="translate(403.47 440.8) scale(0.8 1)">3500</text>
<text x="0.47" y="0" font-size="5.8" fill="#666" text-anchor="middle" letter-spacing="0.93" transform="translate(589.33 440.8) scale(0.8 1)">2290</text>
<text x="0.47" y="0" font-size="5.8" fill="#666" text-anchor="middle" letter-spacing="0.93" transform="translate(161.59 452.3) scale(0.8 1)">545</text>
<text x="0.47" y="0" font-size="5.8" fill="#666" text-anchor="middle" letter-spacing="0.93" transform="translate(219.05 452.3) scale(0.8 1)">1245</text>
<text x="0.47" y="0" font-size="5.8" fill="#666" text-anchor="middle" letter-spacing="0.93" transform="translate(307.17 452.3) scale(0.8 1)">1500</text>
<text x="0.47" y="0" font-size="5.8" fill="#666" text-anchor="middle" letter-spacing="0.93" transform="translate(403.47 452.3) scale(0.8 1)">1500</text>
<text x="0.47" y="0" font-size="5.8" fill="#666" text-anchor="middle" letter-spacing="0.93" transform="translate(499.77 452.3) scale(0.8 1)">1500</text>
<text x="0.47" y="0" font-size="5.8" fill="#666" text-anchor="middle" letter-spacing="0.93" transform="translate(587.88 452.3) scale(0.8 1)">1245</text>
<text x="0.47" y="0" font-size="5.8" fill="#666" text-anchor="middle" letter-spacing="0.93" transform="translate(645.34 452.3) scale(0.8 1)">545</text>
<circle cx="144.1" cy="453.3" r="1.4" fill="#111"/>
<circle cx="179.09" cy="453.3" r="1.4" fill="#111"/>
<circle cx="259.02" cy="453.3" r="1.4" fill="#111"/>
<circle cx="355.32" cy="453.3" r="1.4" fill="#111"/>
<circle cx="451.62" cy="453.3" r="1.4" fill="#111"/>
<circle cx="547.92" cy="453.3" r="1.4" fill="#111"/>
<circle cx="627.85" cy="453.3" r="1.4" fill="#111"/>
<circle cx="662.84" cy="453.3" r="1.4" fill="#111"/>
<line x1="179.09" y1="444.2" x2="179.09" y2="453.3" stroke="#111" stroke-width="1.3"/>
<line x1="259.02" y1="444.2" x2="259.02" y2="453.3" stroke="#111" stroke-width="1.3"/>
<line x1="355.32" y1="444.2" x2="355.32" y2="453.3" stroke="#111" stroke-width="1.3"/>
<line x1="451.62" y1="444.2" x2="451.62" y2="453.3" stroke="#111" stroke-width="1.3"/>
<line x1="547.92" y1="444.2" x2="547.92" y2="453.3" stroke="#111" stroke-width="1.3"/>
<line x1="627.85" y1="444.2" x2="627.85" y2="453.3" stroke="#111" stroke-width="1.3"/>
<line x1="179.09" y1="455.8" x2="179.09" y2="472.6" stroke="#ff2eff" stroke-width="1.1"/>
<text x="0" y="0" font-size="5.3" fill="#ff2eff" text-anchor="start" letter-spacing="0.86" transform="translate(184.89 472.6) rotate(-90) scale(0.8 1)">545</text>
<line x1="259.02" y1="455.8" x2="259.02" y2="472.6" stroke="#ff2eff" stroke-width="1.1"/>
<text x="0" y="0" font-size="5.3" fill="#ff2eff" text-anchor="start" letter-spacing="0.86" transform="translate(264.82 472.6) rotate(-90) scale(0.8 1)">1790</text>
<line x1="355.32" y1="455.8" x2="355.32" y2="472.6" stroke="#ff2eff" stroke-width="1.1"/>
<text x="0" y="0" font-size="5.3" fill="#ff2eff" text-anchor="start" letter-spacing="0.86" transform="translate(361.12 472.6) rotate(-90) scale(0.8 1)">3290</text>
<line x1="451.62" y1="455.8" x2="451.62" y2="472.6" stroke="#ff2eff" stroke-width="1.1"/>
<text x="0" y="0" font-size="5.3" fill="#ff2eff" text-anchor="start" letter-spacing="0.86" transform="translate(457.42 472.6) rotate(-90) scale(0.8 1)">4790</text>
<line x1="547.92" y1="455.8" x2="547.92" y2="472.6" stroke="#ff2eff" stroke-width="1.1"/>
<text x="0" y="0" font-size="5.3" fill="#ff2eff" text-anchor="start" letter-spacing="0.86" transform="translate(553.72 472.6) rotate(-90) scale(0.8 1)">6290</text>
<line x1="627.85" y1="455.8" x2="627.85" y2="472.6" stroke="#ff2eff" stroke-width="1.1"/>
<text x="0" y="0" font-size="5.3" fill="#ff2eff" text-anchor="start" letter-spacing="0.86" transform="translate(633.65 472.6) rotate(-90) scale(0.8 1)">7535</text>
<line x1="662.84" y1="455.8" x2="662.84" y2="472.6" stroke="#ff2eff" stroke-width="1.1"/>
<text x="0" y="0" font-size="5.3" fill="#ff2eff" text-anchor="start" letter-spacing="0.86" transform="translate(668.64 472.6) rotate(-90) scale(0.8 1)">8080</text>
<line x1="291.12" y1="468.2" x2="291.12" y2="485.6" stroke="#ff2eff" stroke-width="1.1"/>
<polyline points="288.72,471.5 291.12,474.5 288.72,477.5" stroke="#ff2eff" stroke-width="1" fill="none"/>
<line x1="288.72" y1="471.5" x2="288.72" y2="477.5" stroke="#ff2eff" stroke-width="0.8"/>
<text x="0" y="0" font-size="5.3" fill="#ff2eff" text-anchor="start" letter-spacing="0.86" transform="translate(296.92 485.6) rotate(-90) scale(0.8 1)">2290</text>
<line x1="515.82" y1="468.2" x2="515.82" y2="485.6" stroke="#ff2eff" stroke-width="1.1"/>
<polyline points="513.42,471.5 515.82,474.5 513.42,477.5" stroke="#ff2eff" stroke-width="1" fill="none"/>
<line x1="513.42" y1="471.5" x2="513.42" y2="477.5" stroke="#ff2eff" stroke-width="0.8"/>
<text x="0" y="0" font-size="5.3" fill="#ff2eff" text-anchor="start" letter-spacing="0.86" transform="translate(521.62 485.6) rotate(-90) scale(0.8 1)">5790</text>
<path transform="translate(673.6 453.5) scale(6)" d="M0.2,0 L0.2,0.15 M0,0.2 L0.4,0.2 M0.08,0.35 L0.15,0.75 M0.35,0.35 L0.28,0.75 M0,0.95 L0.4,0.95 M0.7,0 L0.7,0.3 M0.5,0.1 L0.5,0.3 L0.9,0.3 L0.9,0.1 M0.45,0.45 L1,0.45 M0.5,0.55 L0.5,1 M0.5,0.55 L0.95,0.55 L0.95,1 M0.65,0.55 L0.65,1 M0.8,0.55 L0.8,1" stroke="#666" stroke-width="0.8" fill="none" vector-effect="non-scaling-stroke"/>
<rect x="668.5" y="463.6" width="27.9" height="7.7" stroke="#333" stroke-width="0.9" fill="none"/>
<path transform="translate(671.5 465.4) scale(4.4)" d="M0.1,0.35 L0.9,0.3 M0.1,0.62 L0.9,0.57 M0.42,0.08 L0.6,1" stroke="#666" stroke-width="0.8" fill="none" vector-effect="non-scaling-stroke"/>
<path transform="translate(675.4 465.4) scale(4.4)" d="M0.15,0.5 L0.25,0.72 M0.45,0.45 L0.55,0.68 M0.85,0.45 L0.55,1" stroke="#666" stroke-width="0.8" fill="none" vector-effect="non-scaling-stroke"/>
<path transform="translate(679.3 465.4) scale(4.4)" d="M0.35,0.05 L0.35,1 M0.35,0.45 L0.85,0.62" stroke="#666" stroke-width="0.8" fill="none" vector-effect="non-scaling-stroke"/>
<path transform="translate(683.2 465.4) scale(4.4)" d="M0.1,0.2 L0.85,0.2 L0.6,0.8 L0.3,1" stroke="#666" stroke-width="0.8" fill="none" vector-effect="non-scaling-stroke"/>
<path transform="translate(687.1 465.4) scale(4.4)" d="M0.15,0.5 L0.25,0.72 M0.45,0.45 L0.55,0.68 M0.85,0.45 L0.55,1" stroke="#666" stroke-width="0.8" fill="none" vector-effect="non-scaling-stroke"/>
<path transform="translate(691 465.4) scale(4.4)" d="M0.4,0.05 L0.1,0.5 M0.3,0.25 L0.85,0.25 L0.6,0.75 L0.3,1" stroke="#666" stroke-width="0.8" fill="none" vector-effect="non-scaling-stroke"/>
<rect x="222.9" y="506.2" width="306.4" height="15.1" stroke="#333" stroke-width="1.15" fill="none"/>
<line x1="269.4" y1="506.2" x2="269.4" y2="521.3" stroke="#333" stroke-width="1.15"/>
<line x1="309.4" y1="506.2" x2="309.4" y2="521.3" stroke="#333" stroke-width="1.15"/>
<line x1="344.6" y1="506.2" x2="344.6" y2="521.3" stroke="#333" stroke-width="1.15"/>
<line x1="379.5" y1="506.2" x2="379.5" y2="521.3" stroke="#333" stroke-width="1.15"/>
<line x1="494.7" y1="506.2" x2="494.7" y2="521.3" stroke="#333" stroke-width="1.15"/>
<text x="0.8" y="0" font-size="7.6" fill="#333" text-anchor="middle" letter-spacing="1.59" transform="translate(246.5 516.9) scale(0.95 1)">4G1C-3</text>
<text x="0.8" y="0" font-size="7.6" fill="#333" text-anchor="middle" letter-spacing="1.59" transform="translate(289.5 516.9) scale(0.95 1)">A31_2</text>
<text x="0.34" y="0" font-size="7.6" fill="#666" text-anchor="middle" letter-spacing="0.69" transform="translate(334.2 516.9) scale(0.86 1)">1</text>
<path transform="translate(336.4 510.7) scale(6.9)" d="M0.35,0 L0.1,0.38 L0.85,0.36 M0.6,0.18 L0.9,0.45 M0.18,0.55 L0.85,0.55 L0.85,1 L0.18,1 Z" stroke="#666" stroke-width="0.9" fill="none" vector-effect="non-scaling-stroke"/>
<text x="0.8" y="0" font-size="7.6" fill="#333" text-anchor="middle" letter-spacing="1.59" transform="translate(362.2 516.9) scale(0.95 1)">4G1C</text>
<circle cx="390.4" cy="512.9" r="4.4" stroke="#333" stroke-width="0.9" fill="none"/>
<text x="0" y="0" font-size="7.6" fill="#333" text-anchor="start" letter-spacing="1.93" transform="translate(397.2 516.9) scale(0.95 1)">H-800x300x14x26</text>
<text x="0.34" y="0" font-size="7.6" fill="#666" text-anchor="middle" letter-spacing="0.69" transform="translate(515.6 516.9) scale(0.86 1)">1</text>
<path transform="translate(517.9 510.7) scale(6.9)" d="M0.35,0 L0.1,0.38 L0.85,0.36 M0.6,0.18 L0.9,0.45 M0.18,0.55 L0.85,0.55 L0.85,1 L0.18,1 Z" stroke="#666" stroke-width="0.9" fill="none" vector-effect="non-scaling-stroke"/>
<text x="0" y="0" font-size="4.6" fill="#666" text-anchor="start" letter-spacing="1.33" transform="translate(535.8 515.3) scale(0.8 1)">1770kg</text>
<path transform="translate(223.2 526.7) scale(5.6)" d="M0,0.06 L1,0.06 M0.1,0.3 L0.9,0.3 L0.9,1 L0.1,1 Z M0.38,0.06 L0.38,0.6 L0.14,0.72 M0.62,0.06 L0.62,0.65 L0.88,0.72 M0.1,0.86 L0.9,0.86" stroke="#666" stroke-width="0.75" fill="none" vector-effect="non-scaling-stroke"/>
<line x1="230" y1="529.7" x2="243" y2="529.7" stroke="#333" stroke-width="0.9"/>
<polyline points="232.5,528.2 229.8,529.7 232.5,531.2" stroke="#333" stroke-width="0.9" fill="none"/>
<line x1="195.9" y1="574.3" x2="251.7" y2="574.3" stroke="#333" stroke-width="1"/>
<line x1="195.9" y1="599.8" x2="251.7" y2="599.8" stroke="#555" stroke-width="1"/>
<line x1="195.9" y1="574.3" x2="195.9" y2="599.8" stroke="#555" stroke-width="1"/>
<circle cx="195.9" cy="574.3" r="1.35" fill="#111"/>
<circle cx="195.9" cy="599.8" r="1.35" fill="#111"/>
<line x1="251.7" y1="574.3" x2="262.5" y2="574.3" stroke="#444" stroke-width="1" stroke-dasharray="4 2"/>
<line x1="288.2" y1="574.3" x2="306.8" y2="574.3" stroke="#444" stroke-width="1" stroke-dasharray="4 2"/>
<line x1="251.7" y1="599.8" x2="256.9" y2="599.8" stroke="#444" stroke-width="1" stroke-dasharray="3 1.5"/>
<line x1="244" y1="574.3" x2="244" y2="581.2" stroke="#333" stroke-width="1"/>
<line x1="244" y1="581.2" x2="251.7" y2="581.2" stroke="#333" stroke-width="1"/>
<circle cx="244" cy="574.3" r="1.2" fill="#111"/>
<circle cx="244" cy="581.2" r="1.2" fill="#111"/>
<text x="0.38" y="0" font-size="4.6" fill="#666" text-anchor="middle" letter-spacing="0.76" transform="translate(241.5 578.2) rotate(-90) scale(0.8 1)">10</text>
<text x="0.38" y="0" font-size="4.6" fill="#666" text-anchor="middle" letter-spacing="0.76" transform="translate(193.5 587) rotate(-90) scale(0.8 1)">350</text>
<rect x="205" y="583.4" width="23.6" height="7.2" stroke="#333" stroke-width="0.9" fill="none" rx="3.6"/>
<text x="0.62" y="0" font-size="5.3" fill="#666" text-anchor="middle" letter-spacing="1.24" transform="translate(216.8 589.2) scale(0.8 1)">BJ39C</text>
<text x="0.62" y="0" font-size="5.3" fill="#666" text-anchor="middle" letter-spacing="1.24" transform="translate(216.8 597.2) scale(0.8 1)">B39C</text>
<text x="0" y="0" font-size="3.9" fill="#7080a0" text-anchor="start" letter-spacing="0.67" transform="translate(196 603.7) scale(0.8 1)">H-200x100x7x11</text>
<line x1="228.2" y1="561.5" x2="253.1" y2="561.5" stroke="#333" stroke-width="0.9"/>
<line x1="253.1" y1="561.5" x2="262.9" y2="578.4" stroke="#333" stroke-width="0.9"/>
<text x="0.68" y="0" font-size="5.3" fill="#666" text-anchor="middle" letter-spacing="1.36" transform="translate(241 559.6) scale(0.8 1)">GPL-9</text>
<text x="0.62" y="0" font-size="5.3" fill="#ff2eff" text-anchor="middle" letter-spacing="1.24" transform="translate(242 567.2) scale(0.8 1)">&lt;4G-8&gt;</text>
<line x1="265.7" y1="562.5" x2="291.1" y2="562.5" stroke="#333" stroke-width="1"/>
<circle cx="265.7" cy="562.5" r="1.35" fill="#111"/>
<circle cx="278.2" cy="562.5" r="1.35" fill="#111"/>
<circle cx="291.1" cy="562.5" r="1.35" fill="#111"/>
<line x1="265.7" y1="562.5" x2="265.7" y2="574" stroke="#444" stroke-width="0.8"/>
<line x1="291.1" y1="562.5" x2="291.1" y2="574" stroke="#444" stroke-width="0.8"/>
<text x="0.52" y="0" font-size="4.8" fill="#666" text-anchor="middle" letter-spacing="1.04" transform="translate(272 561) scale(0.8 1)">200</text>
<text x="0.52" y="0" font-size="4.8" fill="#666" text-anchor="middle" letter-spacing="1.04" transform="translate(284.7 567.8) scale(0.8 1)">200</text>
<rect x="262.5" y="574.4" width="25.7" height="2" fill="#222"/>
<line x1="278.2" y1="574.4" x2="278.2" y2="626" stroke="#111" stroke-width="1.7"/>
<line x1="278.2" y1="626" x2="278.2" y2="636.4" stroke="#333" stroke-width="0.8"/>
<rect x="268.8" y="624.3" width="19.1" height="2.1" stroke="#333" stroke-width="0.8" fill="#bbb"/>
<line x1="287.6" y1="595.5" x2="287.6" y2="624.3" stroke="#777" stroke-width="1"/>
<rect x="256.9" y="578.5" width="11.9" height="19.7" stroke="#777" stroke-width="1" fill="none"/>
<line x1="256.9" y1="598.2" x2="268.8" y2="598.2" stroke="#333" stroke-width="0.9" stroke-dasharray="2 1"/>
<line x1="258.3" y1="581.3" x2="260.5" y2="581.3" stroke="#333" stroke-width="0.8"/>
<line x1="259.4" y1="580.2" x2="259.4" y2="582.4" stroke="#333" stroke-width="0.8"/>
<line x1="264.6" y1="581.3" x2="266.8" y2="581.3" stroke="#333" stroke-width="0.8"/>
<line x1="265.7" y1="580.2" x2="265.7" y2="582.4" stroke="#333" stroke-width="0.8"/>
<line x1="264.6" y1="586.9" x2="266.8" y2="586.9" stroke="#333" stroke-width="0.8"/>
<line x1="265.7" y1="585.8" x2="265.7" y2="588" stroke="#333" stroke-width="0.8"/>
<line x1="258.3" y1="593.2" x2="260.5" y2="593.2" stroke="#333" stroke-width="0.8"/>
<line x1="259.4" y1="592.1" x2="259.4" y2="594.3" stroke="#333" stroke-width="0.8"/>
<line x1="264.6" y1="593.2" x2="266.8" y2="593.2" stroke="#333" stroke-width="0.8"/>
<line x1="265.7" y1="592.1" x2="265.7" y2="594.3" stroke="#333" stroke-width="0.8"/>
<rect x="288.6" y="578.2" width="5" height="17.1" stroke="#777" stroke-width="1" fill="none"/>
<line x1="290" y1="582" x2="292.2" y2="582" stroke="#333" stroke-width="0.7"/>
<line x1="291.1" y1="580.9" x2="291.1" y2="583.1" stroke="#333" stroke-width="0.7"/>
<line x1="290" y1="587" x2="292.2" y2="587" stroke="#333" stroke-width="0.7"/>
<line x1="291.1" y1="585.9" x2="291.1" y2="588.1" stroke="#333" stroke-width="0.7"/>
<line x1="290" y1="592" x2="292.2" y2="592" stroke="#333" stroke-width="0.7"/>
<line x1="291.1" y1="590.9" x2="291.1" y2="593.1" stroke="#333" stroke-width="0.7"/>
<circle cx="289.5" cy="597" r="2.2" stroke="#333" stroke-width="0.8" fill="none"/>
<line x1="306.8" y1="574.3" x2="354.8" y2="574.3" stroke="#333" stroke-width="1"/>
<line x1="294.6" y1="599.7" x2="354.8" y2="599.7" stroke="#555" stroke-width="1"/>
<line x1="354.8" y1="574.3" x2="354.8" y2="599.8" stroke="#333" stroke-width="1"/>
<circle cx="354.8" cy="574.3" r="1.35" fill="#111"/>
<circle cx="354.8" cy="599.8" r="1.35" fill="#111"/>
<line x1="306.8" y1="574.3" x2="306.8" y2="581.5" stroke="#333" stroke-width="1"/>
<line x1="299" y1="581.5" x2="306.8" y2="581.5" stroke="#333" stroke-width="1"/>
<circle cx="306.8" cy="574.3" r="1.2" fill="#111"/>
<circle cx="306.8" cy="581.5" r="1.2" fill="#111"/>
<text x="0.38" y="0" font-size="4.6" fill="#666" text-anchor="middle" letter-spacing="0.76" transform="translate(304.5 578.2) rotate(-90) scale(0.8 1)">10</text>
<text x="0.38" y="0" font-size="4.6" fill="#666" text-anchor="middle" letter-spacing="0.76" transform="translate(352.2 587) rotate(-90) scale(0.8 1)">350</text>
<rect x="322" y="583.4" width="20.6" height="7.2" stroke="#333" stroke-width="0.9" fill="none" rx="3.6"/>
<text x="0.62" y="0" font-size="5.3" fill="#666" text-anchor="middle" letter-spacing="1.24" transform="translate(332.3 589.2) scale(0.8 1)">BJ39</text>
<text x="0.62" y="0" font-size="5.3" fill="#666" text-anchor="middle" letter-spacing="1.24" transform="translate(332.3 597.2) scale(0.8 1)">B39</text>
<text x="0" y="0" font-size="3.9" fill="#7080a0" text-anchor="start" letter-spacing="0.67" transform="translate(296 603.7) scale(0.8 1)">H-200x100x7x11</text>
<line x1="291" y1="598" x2="300.4" y2="612.3" stroke="#333" stroke-width="0.9"/>
<line x1="300.4" y1="612.3" x2="325.3" y2="612.3" stroke="#333" stroke-width="0.9"/>
<text x="0.68" y="0" font-size="5.3" fill="#666" text-anchor="middle" letter-spacing="1.36" transform="translate(313 610.3) scale(0.8 1)">GPL-9</text>
<text x="0.62" y="0" font-size="5.3" fill="#ff2eff" text-anchor="middle" letter-spacing="1.24" transform="translate(312 618) scale(0.8 1)">&lt;4G-9&gt;</text>
<line x1="245.5" y1="606.5" x2="277" y2="624.5" stroke="#222" stroke-width="1"/>
<line x1="244.2" y1="609.3" x2="276" y2="626" stroke="#222" stroke-width="1"/>
<line x1="248" y1="604.8" x2="264" y2="614" stroke="#444" stroke-width="0.8"/>
<line x1="246.6" y1="604.5" x2="243.5" y2="610" stroke="#111" stroke-width="1.8"/>
<line x1="256.9" y1="598.2" x2="263" y2="613" stroke="#333" stroke-width="0.8"/>
<text x="0.34" y="0" font-size="4" fill="#666" text-anchor="middle" letter-spacing="0.68" transform="translate(242.5 606) rotate(30) scale(0.8 1)">12</text>
<line x1="258.8" y1="630.4" x2="270.4" y2="636.6" stroke="#333" stroke-width="0.9"/>
<circle cx="258.8" cy="630.4" r="1.35" fill="#111"/>
<circle cx="270.4" cy="636.6" r="1.35" fill="#111"/>
<line x1="258.8" y1="630.4" x2="262.5" y2="623.8" stroke="#444" stroke-width="0.8"/>
<line x1="270.4" y1="636.6" x2="274.5" y2="629" stroke="#444" stroke-width="0.8"/>
<text x="0.4" y="0" font-size="4.8" fill="#666" text-anchor="middle" letter-spacing="0.79" transform="translate(266 632.5) rotate(28) scale(0.8 1)">180</text>
<polygon points="214.5,621 224.5,626.3 214.5,626.3" stroke="#333" stroke-width="0.9" fill="none"/>
<polygon points="214.5,621 217.5,622.6 217.5,626.3 214.5,626.3" stroke="#333" stroke-width="0.5" fill="#333"/>
<text x="0.34" y="0" font-size="4" fill="#666" text-anchor="middle" letter-spacing="0.68" transform="translate(213 629) rotate(-60) scale(0.8 1)">75</text>
<text x="0.34" y="0" font-size="4" fill="#666" text-anchor="middle" letter-spacing="0.68" transform="translate(215 618.3) scale(0.8 1)">6</text>
<text x="0.68" y="0" font-size="5.3" fill="#666" text-anchor="middle" letter-spacing="1.36" transform="translate(220 636.5) scale(0.8 1)">H1</text>
<text x="0.65" y="0" font-size="5.3" fill="#666" text-anchor="middle" letter-spacing="1.3" transform="translate(220.5 644) scale(0.8 1)">2L-75x75x6</text>
<rect x="206.2" y="647.8" width="27.6" height="5.8" stroke="#333" stroke-width="0.9" fill="none" rx="2.9"/>
<text x="0.6" y="0" font-size="5" fill="#666" text-anchor="middle" letter-spacing="1.19" transform="translate(220 652.6) scale(0.8 1)">BJH75G</text>
<circle cx="268.2" cy="655.3" r="4.6" stroke="#333" stroke-width="0.9" fill="none"/>
<text x="0.33" y="0" font-size="4.8" fill="#666" text-anchor="middle" letter-spacing="0.67" transform="translate(268.2 657.2) scale(0.8 1)">A</text>
<text x="0" y="0" font-size="5.3" fill="#666" text-anchor="start" letter-spacing="1.49" transform="translate(278 657.6) scale(0.8 1)">SEC</text>
<line x1="263.7" y1="660.1" x2="292.8" y2="660.1" stroke="#333" stroke-width="0.9"/>
<line x1="432.1" y1="540" x2="432.1" y2="550" stroke="#333" stroke-width="0.9"/>
<rect x="422.6" y="549.3" width="19.2" height="1.8" fill="#222"/>
<line x1="423.8" y1="551" x2="423.8" y2="598.6" stroke="#333" stroke-width="1"/>
<line x1="441" y1="551" x2="441" y2="598.6" stroke="#333" stroke-width="1"/>
<line x1="432.1" y1="551" x2="432.1" y2="598.6" stroke="#111" stroke-width="1.6"/>
<rect x="422.6" y="598.6" width="19.2" height="1.8" fill="#222"/>
<polygon points="425.1,601 438.4,601 435.4,613.5 428.8,613.5" stroke="#333" stroke-width="0.9" fill="none"/>
<line x1="430" y1="603.2" x2="434.5" y2="603.2" stroke="#444" stroke-width="1.2"/>
<line x1="430" y1="608.5" x2="434.5" y2="608.5" stroke="#444" stroke-width="1.2"/>
<line x1="432.1" y1="613.5" x2="432.1" y2="634.3" stroke="#333" stroke-width="0.9"/>
<line x1="430.3" y1="616.5" x2="434" y2="620.5" stroke="#333" stroke-width="0.8"/>
<line x1="434" y1="616.5" x2="430.3" y2="620.5" stroke="#333" stroke-width="0.8"/>
<line x1="430.3" y1="620.5" x2="434" y2="624.5" stroke="#333" stroke-width="0.8"/>
<line x1="434" y1="620.5" x2="430.3" y2="624.5" stroke="#333" stroke-width="0.8"/>
<line x1="422.6" y1="634.3" x2="442.1" y2="634.3" stroke="#333" stroke-width="1"/>
<circle cx="422.6" cy="634.3" r="1.35" fill="#111"/>
<circle cx="432.1" cy="634.3" r="1.35" fill="#111"/>
<circle cx="442.1" cy="634.3" r="1.35" fill="#111"/>
<line x1="422.6" y1="612" x2="422.6" y2="634.3" stroke="#444" stroke-width="0.8"/>
<line x1="442.1" y1="612" x2="442.1" y2="634.3" stroke="#444" stroke-width="0.8"/>
<text x="0.46" y="0" font-size="4.8" fill="#666" text-anchor="middle" letter-spacing="0.92" transform="translate(427.3 632.6) scale(0.8 1)">150</text>
<text x="0.46" y="0" font-size="4.8" fill="#666" text-anchor="middle" letter-spacing="0.92" transform="translate(437.2 632.6) scale(0.8 1)">150</text>
<line x1="441.8" y1="600" x2="447" y2="600" stroke="#333" stroke-width="0.8"/>
<line x1="441.8" y1="604" x2="447" y2="604" stroke="#333" stroke-width="0.8"/>
<circle cx="447" cy="600" r="1.1" fill="#111"/>
<circle cx="447" cy="604" r="1.1" fill="#111"/>
<text x="0" y="0" font-size="4" fill="#666" text-anchor="start" letter-spacing="0.56" transform="translate(448.5 601.6) scale(0.8 1)">O</text>
<text x="0" y="0" font-size="4" fill="#666" text-anchor="start" letter-spacing="0.56" transform="translate(448.5 605.6) scale(0.8 1)">O</text>
<line x1="423.8" y1="575" x2="403.4" y2="585.9" stroke="#333" stroke-width="0.9"/>
<line x1="403.4" y1="585.9" x2="382.5" y2="585.9" stroke="#333" stroke-width="0.9"/>
<line x1="441" y1="575" x2="461" y2="585.9" stroke="#333" stroke-width="0.9"/>
<line x1="461" y1="585.9" x2="481.9" y2="585.9" stroke="#333" stroke-width="0.9"/>
<text x="0.68" y="0" font-size="5.3" fill="#666" text-anchor="middle" letter-spacing="1.36" transform="translate(392.5 584.3) scale(0.8 1)">PL-6</text>
<text x="0.62" y="0" font-size="5.3" fill="#ff2eff" text-anchor="middle" letter-spacing="1.24" transform="translate(392.5 591.5) scale(0.8 1)">&lt;4G6R80&gt;</text>
<text x="0.68" y="0" font-size="5.3" fill="#666" text-anchor="middle" letter-spacing="1.36" transform="translate(471 584.3) scale(0.8 1)">PL-6</text>
<text x="0.62" y="0" font-size="5.3" fill="#ff2eff" text-anchor="middle" letter-spacing="1.24" transform="translate(473.5 591.5) scale(0.8 1)">&lt;4G6R80&gt;</text>
<line x1="437" y1="606" x2="447.6" y2="623.5" stroke="#333" stroke-width="0.9"/>
<line x1="447.6" y1="623.5" x2="471.8" y2="623.5" stroke="#333" stroke-width="0.9"/>
<text x="0.68" y="0" font-size="5.3" fill="#666" text-anchor="middle" letter-spacing="1.36" transform="translate(459.5 621.6) scale(0.8 1)">GPL-6</text>
<text x="0.62" y="0" font-size="5.3" fill="#ff2eff" text-anchor="middle" letter-spacing="1.24" transform="translate(459.5 629.2) scale(0.8 1)">&lt;4G-1&gt;</text>
<rect x="388.4" y="620.1" width="24.2" height="5.6" stroke="#333" stroke-width="0.9" fill="none" rx="2.8"/>
<text x="0.66" y="0" font-size="5" fill="#666" text-anchor="middle" letter-spacing="1.32" transform="translate(400.5 624.9) scale(0.8 1)">PJT10</text>
<text x="0.6" y="0" font-size="5" fill="#666" text-anchor="middle" letter-spacing="1.19" transform="translate(409.5 630.8) scale(0.8 1)">T4</text>
<text x="0" y="0" font-size="4.4" fill="#6a6048" text-anchor="start" letter-spacing="0.86" transform="translate(376.8 636.8) scale(0.8 1)">[-100x50x5x7.5</text>
<circle cx="423.1" cy="649.3" r="4.8" stroke="#333" stroke-width="0.9" fill="none"/>
<text x="0.33" y="0" font-size="4.8" fill="#666" text-anchor="middle" letter-spacing="0.67" transform="translate(423.1 651.1) scale(0.8 1)">B</text>
<text x="0" y="0" font-size="5.3" fill="#666" text-anchor="start" letter-spacing="1.49" transform="translate(433 651.6) scale(0.8 1)">SEC</text>
<line x1="418" y1="654.4" x2="447" y2="654.4" stroke="#333" stroke-width="0.9"/>
<line x1="536.4" y1="564.2" x2="536.4" y2="636" stroke="#333" stroke-width="0.9"/>
<rect x="526.7" y="574.2" width="20.1" height="2.5" stroke="#555" stroke-width="0.9" fill="none"/>
<line x1="536.4" y1="576.7" x2="536.4" y2="624.3" stroke="#111" stroke-width="1.5"/>
<rect x="526.7" y="624.3" width="20.1" height="2.2" stroke="#555" stroke-width="0.9" fill="none"/>
<path d="M530.5,619 Q529,622.5 533.5,623.2" stroke="#222" stroke-width="1" fill="none"/>
<path d="M545,619 Q544.5,622.5 540,623.2" stroke="#222" stroke-width="1" fill="none"/>
<line x1="545.1" y1="621.8" x2="552.6" y2="610.1" stroke="#333" stroke-width="0.9"/>
<line x1="552.6" y1="610.1" x2="591" y2="610.1" stroke="#333" stroke-width="0.9"/>
<text x="0" y="0" font-size="5" fill="#666" text-anchor="start" letter-spacing="1.19" transform="translate(556 608.2) scale(0.8 1)">RB-9</text>
<text x="0" y="0" font-size="5" fill="#666" text-anchor="start" letter-spacing="1.07" transform="translate(556 615.5) scale(0.8 1)">RB-9@R50</text>
<text x="0" y="0" font-size="5" fill="#666" text-anchor="start" letter-spacing="0.69" transform="translate(512.7 632.8) scale(0.8 1)">*</text>
<path transform="translate(515.2 628.2) scale(4.6)" d="M0.05,0.3 L0.45,0.25 M0.3,0.05 L0.1,0.7 M0.6,0.3 L0.9,0.4 M0.7,0.45 L0.7,0.95 L0.45,0.85 L0.7,0.75 L0.95,0.95" stroke="#666" stroke-width="0.8" fill="none" vector-effect="non-scaling-stroke"/>
<path transform="translate(519.8 628.2) scale(4.6)" d="M0.15,0.1 L0.75,0.1 L0.2,0.6 L0.6,0.45 L0.85,0.7 L0.6,0.95 L0.4,0.8" stroke="#666" stroke-width="0.8" fill="none" vector-effect="non-scaling-stroke"/>
<path transform="translate(524.4 628.2) scale(4.6)" d="M0.05,0.6 L0.3,0.35 L0.9,0.85 M0.7,0.1 L0.75,0.25 M0.85,0.05 L0.9,0.2" stroke="#666" stroke-width="0.8" fill="none" vector-effect="non-scaling-stroke"/>
<path transform="translate(529 628.2) scale(4.6)" d="M0.7,0.05 L0.25,0.5 L0.7,0.95" stroke="#666" stroke-width="0.8" fill="none" vector-effect="non-scaling-stroke"/>
<text x="0" y="0" font-size="5" fill="#666" text-anchor="start" letter-spacing="1.19" transform="translate(533.5 632.8) scale(0.8 1)">Web</text>
<path transform="translate(546.5 628.2) scale(4.6)" d="M0.15,0.1 L0.15,0.9 M0.45,0.2 L0.85,0.2 M0.45,0.8 L0.9,0.8" stroke="#666" stroke-width="0.8" fill="none" vector-effect="non-scaling-stroke"/>
<path transform="translate(550 628.2) scale(4.6)" d="M0.45,0.1 L0.45,0.6 L0.35,0.7 M0.45,0.3 L0.9,0.3 M0.7,0.3 L0.7,0.7 M0.1,0.15 L0.2,0.25 M0.05,0.45 L0.2,0.45 L0.2,0.8 L0.05,0.95 M0.15,0.85 L1,0.95" stroke="#666" stroke-width="0.8" fill="none" vector-effect="non-scaling-stroke"/>
<path transform="translate(553.5 628.2) scale(4.6)" d="M0.1,0.35 L0.9,0.35 L0.5,0.95 M0.75,0.1 L0.8,0.22 M0.9,0.05 L0.95,0.18" stroke="#666" stroke-width="0.8" fill="none" vector-effect="non-scaling-stroke"/>
<path transform="translate(557 628.2) scale(4.6)" d="M0.15,0.1 L0.15,0.9 M0.4,0.35 L0.95,0.35 M0.75,0.05 L0.75,0.7 L0.55,1" stroke="#666" stroke-width="0.8" fill="none" vector-effect="non-scaling-stroke"/>
<path transform="translate(560.5 628.2) scale(4.6)" d="M0.3,0.08 L0.6,0.15 M0.15,0.4 L0.75,0.4 L0.15,0.95 M0.45,0.65 L0.95,0.95" stroke="#666" stroke-width="0.8" fill="none" vector-effect="non-scaling-stroke"/>
<path transform="translate(525.9 647.3) scale(4.3)" d="M0.1,0.35 L0.9,0.3 M0.1,0.62 L0.9,0.57 M0.42,0.08 L0.6,1" stroke="#666" stroke-width="0.8" fill="none" vector-effect="non-scaling-stroke"/>
<path transform="translate(529.35 647.3) scale(4.3)" d="M0.15,0.5 L0.25,0.72 M0.45,0.45 L0.55,0.68 M0.85,0.45 L0.55,1" stroke="#666" stroke-width="0.8" fill="none" vector-effect="non-scaling-stroke"/>
<path transform="translate(532.8 647.3) scale(4.3)" d="M0.35,0.05 L0.35,1 M0.35,0.45 L0.85,0.62" stroke="#666" stroke-width="0.8" fill="none" vector-effect="non-scaling-stroke"/>
<path transform="translate(536.25 647.3) scale(4.3)" d="M0.1,0.2 L0.85,0.2 L0.6,0.8 L0.3,1" stroke="#666" stroke-width="0.8" fill="none" vector-effect="non-scaling-stroke"/>
<path transform="translate(539.7 647.3) scale(4.3)" d="M0.15,0.5 L0.25,0.72 M0.45,0.45 L0.55,0.68 M0.85,0.45 L0.55,1" stroke="#666" stroke-width="0.8" fill="none" vector-effect="non-scaling-stroke"/>
<path transform="translate(543.15 647.3) scale(4.3)" d="M0.4,0.05 L0.1,0.5 M0.3,0.25 L0.85,0.25 L0.6,0.75 L0.3,1" stroke="#666" stroke-width="0.8" fill="none" vector-effect="non-scaling-stroke"/>
<line x1="522.6" y1="652.2" x2="550.7" y2="652.2" stroke="#333" stroke-width="0.9"/>
<line x1="635.4" y1="564.7" x2="635.4" y2="646.8" stroke="#333" stroke-width="0.9"/>
<rect x="625.9" y="574.2" width="20" height="2.5" stroke="#555" stroke-width="0.9" fill="none"/>
<line x1="635.4" y1="576.7" x2="635.4" y2="624.6" stroke="#111" stroke-width="1.5"/>
<rect x="625.9" y="624.6" width="20" height="2.4" stroke="#555" stroke-width="0.9" fill="none"/>
<rect x="635.4" y="602.6" width="10" height="3.8" stroke="#333" stroke-width="0.9" fill="none"/>
<line x1="645.4" y1="606.4" x2="645.4" y2="646.8" stroke="#333" stroke-width="0.9"/>
<line x1="648.4" y1="574.2" x2="669.3" y2="574.2" stroke="#333" stroke-width="0.9"/>
<line x1="648.4" y1="606.4" x2="669.3" y2="606.4" stroke="#333" stroke-width="0.9"/>
<line x1="648.4" y1="626" x2="669.3" y2="626" stroke="#333" stroke-width="0.9"/>
<line x1="669.3" y1="574.2" x2="669.3" y2="626" stroke="#333" stroke-width="0.9"/>
<circle cx="669.3" cy="574.2" r="1.35" fill="#111"/>
<circle cx="669.3" cy="606.4" r="1.35" fill="#111"/>
<circle cx="669.3" cy="626" r="1.35" fill="#111"/>
<text x="0.4" y="0" font-size="4.8" fill="#666" text-anchor="middle" letter-spacing="0.79" transform="translate(667 590.5) rotate(-90) scale(0.8 1)">500</text>
<text x="0.4" y="0" font-size="4.8" fill="#666" text-anchor="middle" letter-spacing="0.79" transform="translate(667 616.8) rotate(-90) scale(0.8 1)">300</text>
<line x1="635.4" y1="646.6" x2="645.4" y2="646.6" stroke="#333" stroke-width="0.9"/>
<circle cx="635.4" cy="646.6" r="1.35" fill="#111"/>
<circle cx="645.4" cy="646.6" r="1.35" fill="#111"/>
<text x="0.38" y="0" font-size="4.6" fill="#666" text-anchor="middle" letter-spacing="0.76" transform="translate(640.4 645) scale(0.8 1)">150</text>
<line x1="645.4" y1="606.4" x2="663.4" y2="638.1" stroke="#333" stroke-width="0.9"/>
<line x1="663.4" y1="638.1" x2="699.3" y2="638.1" stroke="#333" stroke-width="0.9"/>
<text x="0.6" y="0" font-size="5" fill="#666" text-anchor="middle" letter-spacing="1.19" transform="translate(681.5 636.2) scale(0.8 1)">L-65x65x6</text>
<text x="0.66" y="0" font-size="5" fill="#ff2eff" text-anchor="middle" letter-spacing="1.32" transform="translate(682 643.8) scale(0.8 1)">L143</text>
<circle cx="628" cy="661" r="4.8" stroke="#333" stroke-width="0.9" fill="none"/>
<text x="0.33" y="0" font-size="4.8" fill="#666" text-anchor="middle" letter-spacing="0.67" transform="translate(628 662.8) scale(0.8 1)">I</text>
<text x="0" y="0" font-size="5.3" fill="#666" text-anchor="start" letter-spacing="1.49" transform="translate(638 663.2) scale(0.8 1)">SEC</text>
<line x1="623" y1="666.1" x2="652" y2="666.1" stroke="#333" stroke-width="0.9"/>
<text x="0" y="0" font-size="4.8" fill="#666" text-anchor="start" letter-spacing="1.04" transform="translate(629.3 671.6) scale(0.8 1)">ALC</text>
<path transform="translate(638.6 667.8) scale(4)" d="M0.2,0.05 L0.9,0 M0.2,0.15 L0.3,0.3 M0.5,0.12 L0.5,0.28 M0.8,0.1 L0.7,0.3 M0.05,0.45 L0.05,0.38 L0.95,0.38 L0.95,0.45 M0.2,0.6 L0.8,0.6 L0.2,1 M0.35,0.7 L0.9,1" stroke="#666" stroke-width="0.8" fill="none" vector-effect="non-scaling-stroke"/>
<path transform="translate(642.5 667.8) scale(4)" d="M0.15,0.1 L0.15,0.9 M0.4,0.35 L0.95,0.35 M0.75,0.05 L0.75,0.7 L0.55,1" stroke="#666" stroke-width="0.8" fill="none" vector-effect="non-scaling-stroke"/>
</svg>
</body></html>
